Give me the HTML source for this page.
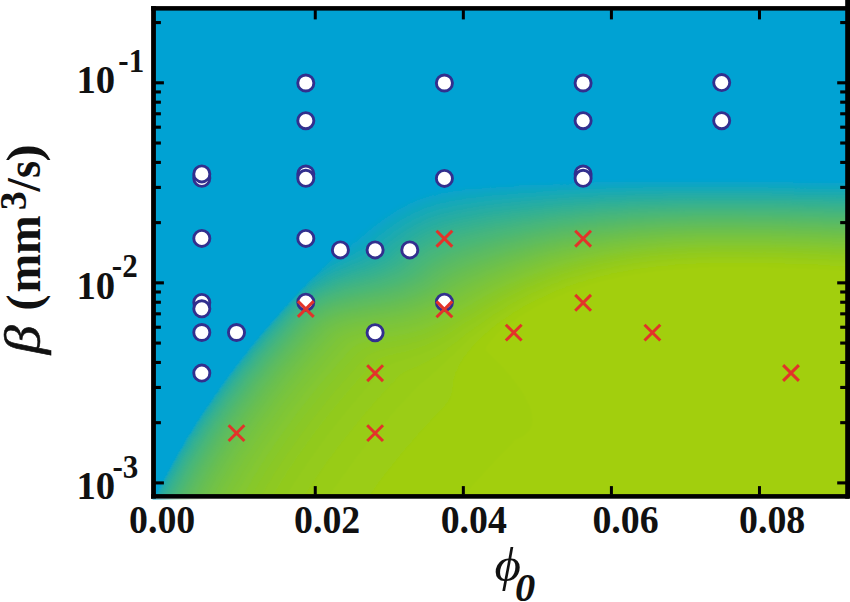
<!DOCTYPE html><html><head><meta charset="utf-8"><style>html,body{margin:0;padding:0;background:#fff;overflow:hidden}svg{display:block}</style></head><body>
<svg width="850" height="602" viewBox="0 0 850 602">
<defs><clipPath id="cp"><rect x="153.9" y="8.6" width="693.3" height="487.5"/></clipPath><filter id="bl" x="-5%" y="-5%" width="110%" height="110%"><feGaussianBlur stdDeviation="1.3"/></filter></defs>
<g clip-path="url(#cp)"><g filter="url(#bl)"><rect x="100" y="0" width="800" height="560" fill="#00a2d3"/><path fill="#03a3cf" d="M849.5 181.5L794.0 181.0L793.5 180.5L749.5 180.5L749.0 180.0L624.0 180.0L623.5 180.5L593.0 180.5L592.5 181.0L571.5 181.0L571.0 181.5L555.0 181.5L554.5 182.0L528.5 182.5L528.0 183.0L517.5 183.0L514.0 184.0L507.5 184.0L507.0 184.5L481.0 185.5L480.5 186.0L463.5 187.0L463.0 187.5L459.0 187.5L458.5 188.0L448.5 189.0L448.0 189.5L445.5 189.5L442.5 190.5L437.5 191.0L437.0 191.5L429.5 193.0L427.5 194.0L426.0 194.0L413.5 198.5L407.5 201.5L406.5 201.5L405.5 202.5L403.5 203.0L402.5 204.0L394.5 208.0L387.5 213.0L383.0 215.5L371.0 224.5L359.0 234.5L354.0 239.5L352.0 240.5L348.5 243.5L347.5 243.5L347.5 244.0L346.5 244.5L346.5 245.0L345.5 245.5L311.0 280.5L310.5 280.5L305.5 286.5L303.5 288.0L287.5 306.0L285.5 307.5L279.0 315.5L278.0 316.0L273.0 322.5L272.0 323.0L267.0 329.5L266.0 330.0L258.5 339.0L257.0 341.5L256.0 342.0L254.5 344.5L253.5 345.0L252.0 347.5L251.0 348.0L244.5 357.0L243.5 357.5L243.0 359.0L242.0 359.5L239.0 364.0L237.0 366.0L231.5 374.0L230.5 374.5L230.0 376.0L228.0 378.0L227.5 379.5L226.5 380.0L223.5 385.0L222.5 385.5L222.0 387.0L220.0 389.0L219.5 390.5L215.5 395.5L214.0 398.5L213.0 399.0L212.5 400.5L202.0 415.5L200.0 419.5L199.0 420.0L191.5 433.0L190.0 434.5L185.5 442.0L185.5 443.0L178.0 455.0L176.0 459.5L173.0 464.0L172.5 466.0L170.0 469.5L170.0 470.5L168.0 473.5L167.5 475.5L166.5 476.5L158.5 492.5L158.5 493.5L157.0 495.5L156.5 497.5L155.5 498.5L154.5 502.0L153.0 504.0L153.0 505.0L147.0 517.5L147.0 518.5L143.0 527.0L142.0 530.5L141.0 531.5L0.0 553.0L0.0 601.5L849.5 601.5Z"/><path fill="#07a4cb" d="M849.5 183.0L794.0 182.5L793.5 182.0L749.5 182.0L749.0 181.5L624.5 181.5L624.0 182.0L593.5 182.0L593.0 182.5L589.5 182.5L589.0 183.0L571.5 183.0L571.0 183.5L555.5 183.5L555.0 184.0L529.0 184.5L528.5 185.0L518.5 185.0L515.0 186.0L490.0 187.0L489.5 187.5L482.0 187.5L481.5 188.0L464.5 189.0L462.0 190.0L448.5 191.5L448.0 192.0L440.5 193.0L440.0 193.5L438.0 193.5L437.5 194.0L430.0 195.5L428.5 196.5L427.0 196.5L421.0 198.5L419.5 199.5L417.0 200.0L412.0 202.5L411.0 202.5L396.5 210.0L389.0 215.5L384.5 218.0L372.5 227.0L354.5 242.5L353.5 242.5L348.0 247.0L346.5 247.5L344.5 249.5L343.5 249.5L337.0 254.0L318.5 273.0L310.5 280.5L305.5 286.5L303.5 288.0L298.5 294.0L297.5 294.5L292.5 300.5L291.5 301.0L287.5 306.0L285.5 307.5L283.0 311.0L282.0 311.5L275.5 319.5L274.5 320.0L273.0 322.5L272.0 323.0L269.5 326.5L268.5 327.0L267.0 329.5L266.0 330.0L258.5 339.0L257.0 341.5L256.0 342.0L254.5 344.5L253.5 345.0L252.0 347.5L251.0 348.0L244.5 357.0L243.5 357.5L243.0 359.0L242.0 359.5L239.0 364.0L237.0 366.0L231.5 374.0L230.5 374.5L230.0 376.0L228.0 378.0L227.5 379.5L226.5 380.0L223.5 385.0L222.5 385.5L222.0 387.0L220.0 389.0L219.5 390.5L215.5 395.5L214.0 398.5L213.0 399.0L212.5 400.5L202.0 415.5L200.0 419.5L199.0 420.0L191.5 433.0L190.0 434.5L185.5 442.0L185.5 443.0L178.0 455.0L176.0 459.5L173.0 464.0L172.5 466.0L170.0 469.5L170.0 470.5L168.0 473.5L167.5 475.5L166.5 476.5L158.5 492.5L158.5 493.5L157.0 495.5L156.5 497.5L155.5 498.5L154.5 502.0L153.0 504.0L153.0 505.0L147.0 517.5L147.0 518.5L143.0 527.0L142.0 530.5L141.0 531.5L0.0 553.0L0.0 601.5L849.5 601.5Z"/><path fill="#0aa5c6" d="M849.5 184.5L794.0 184.0L793.5 183.5L749.5 183.5L749.0 183.0L625.0 183.0L624.5 183.5L613.0 183.5L612.5 184.0L558.0 185.0L557.5 185.5L554.5 185.5L554.0 186.0L529.5 186.5L529.0 187.0L519.0 187.0L516.0 188.0L491.0 189.0L490.5 189.5L485.0 189.5L484.5 190.0L481.5 190.0L481.0 190.5L475.5 190.5L475.0 191.0L470.0 191.0L469.5 191.5L464.5 191.5L464.0 192.0L456.5 192.5L451.5 194.0L446.0 194.5L445.5 195.0L443.5 195.0L443.0 195.5L434.5 197.0L432.5 198.0L431.0 198.0L429.0 199.0L427.5 199.0L421.5 201.0L419.0 202.5L412.0 205.0L402.0 210.0L387.0 219.5L374.5 229.0L357.5 243.5L347.5 249.5L346.0 251.0L343.5 252.0L333.0 259.0L331.5 260.5L330.0 261.0L318.5 273.0L310.5 280.5L305.5 286.5L303.5 288.0L298.5 294.0L297.5 294.5L292.5 300.5L291.5 301.0L287.5 306.0L285.5 307.5L283.0 311.0L282.0 311.5L275.5 319.5L274.5 320.0L273.0 322.5L272.0 323.0L269.5 326.5L268.5 327.0L267.0 329.5L266.0 330.0L258.5 339.0L257.0 341.5L256.0 342.0L254.5 344.5L253.5 345.0L252.0 347.5L251.0 348.0L244.5 357.0L243.5 357.5L243.0 359.0L242.0 359.5L239.0 364.0L237.0 366.0L231.5 374.0L230.5 374.5L230.0 376.0L228.0 378.0L227.5 379.5L226.5 380.0L223.5 385.0L222.5 385.5L222.0 387.0L220.0 389.0L219.5 390.5L215.5 395.5L214.0 398.5L213.0 399.0L212.5 400.5L202.0 415.5L200.0 419.5L199.0 420.0L191.5 433.0L190.0 434.5L185.5 442.0L185.5 443.0L178.0 455.0L176.0 459.5L173.0 464.0L172.5 466.0L170.0 469.5L170.0 470.5L168.0 473.5L167.5 475.5L166.5 476.5L158.5 492.5L158.5 493.5L157.0 495.5L156.5 497.5L155.5 498.5L154.5 502.0L153.0 504.0L153.0 505.0L147.0 517.5L147.0 518.5L143.0 527.0L142.0 530.5L141.0 531.5L0.0 553.0L0.0 601.5L849.5 601.5Z"/><path fill="#0ea6c2" d="M849.5 186.0L794.0 185.5L793.5 185.0L749.5 185.0L749.0 184.5L628.0 184.5L627.5 185.0L623.5 185.0L623.0 185.5L594.0 185.5L593.5 186.0L579.5 186.0L579.0 186.5L572.0 186.5L571.5 187.0L546.0 187.5L545.5 188.0L541.0 188.0L540.5 188.5L529.5 188.5L529.0 189.0L519.5 189.0L516.5 190.0L500.0 190.5L499.5 191.0L495.0 191.0L494.5 191.5L490.0 191.5L489.5 192.0L483.0 192.0L482.5 192.5L477.0 192.5L476.5 193.0L473.0 193.0L472.5 193.5L469.5 193.5L469.0 194.0L464.5 194.0L464.0 194.5L457.0 195.0L456.5 195.5L454.0 195.5L453.5 196.0L446.0 197.0L443.5 198.0L435.0 199.5L433.0 200.5L428.0 201.5L426.5 202.5L422.5 203.5L414.0 207.5L413.0 207.5L404.0 212.0L387.5 222.5L377.0 230.5L374.0 233.5L358.5 246.0L356.0 247.0L352.0 250.0L349.5 251.0L348.0 252.5L346.0 253.0L336.0 259.0L323.0 268.0L318.5 273.0L310.5 280.5L305.5 286.5L303.5 288.0L287.5 306.0L285.5 307.5L283.0 311.0L282.0 311.5L275.5 319.5L274.5 320.0L269.5 326.5L268.5 327.0L267.0 329.5L266.0 330.0L258.5 339.0L257.0 341.5L256.0 342.0L254.5 344.5L253.5 345.0L252.0 347.5L251.0 348.0L244.5 357.0L243.5 357.5L243.0 359.0L242.0 359.5L239.0 364.0L237.0 366.0L231.5 374.0L230.5 374.5L230.0 376.0L228.0 378.0L227.5 379.5L226.5 380.0L223.5 385.0L222.5 385.5L222.0 387.0L220.0 389.0L219.5 390.5L215.5 395.5L214.0 398.5L213.0 399.0L212.5 400.5L202.0 415.5L200.0 419.5L199.0 420.0L191.5 433.0L190.0 434.5L185.5 442.0L185.5 443.0L178.0 455.0L176.0 459.5L173.0 464.0L172.5 466.0L170.0 469.5L170.0 470.5L168.0 473.5L167.5 475.5L166.5 476.5L158.5 492.5L158.5 493.5L157.0 495.5L156.5 497.5L155.5 498.5L154.5 502.0L153.0 504.0L153.0 505.0L147.0 517.5L147.0 518.5L143.0 527.0L142.0 530.5L141.0 531.5L0.0 553.0L0.0 601.5L849.5 601.5Z"/><path fill="#11a7be" d="M849.5 187.5L794.0 187.0L793.5 186.5L749.5 186.5L749.0 186.0L636.5 186.0L636.0 186.5L624.5 186.5L624.0 187.0L595.5 187.0L592.0 188.0L573.0 188.0L572.5 188.5L556.0 189.0L555.5 189.5L543.0 189.5L539.5 190.5L520.0 191.0L517.0 192.0L509.5 192.0L509.0 192.5L501.5 192.5L498.5 193.5L484.5 194.0L481.5 195.0L471.0 195.5L470.5 196.0L457.0 197.5L456.5 198.0L454.0 198.0L453.5 198.5L451.0 198.5L448.5 199.5L446.5 199.5L444.0 200.5L441.5 200.5L435.5 202.5L432.0 203.0L430.5 204.0L426.0 205.0L422.0 207.0L419.5 207.5L415.0 210.0L414.0 210.0L400.0 217.5L394.0 222.0L389.5 224.5L379.5 232.0L367.5 242.5L365.5 243.5L360.0 248.0L357.5 249.0L349.0 254.5L348.0 254.5L340.5 258.5L330.5 264.5L321.0 271.0L318.0 274.0L317.0 274.0L316.0 275.5L310.5 280.5L305.5 286.5L303.5 288.0L292.5 300.5L291.5 301.0L287.5 306.0L285.5 307.5L283.0 311.0L282.0 311.5L275.5 319.5L274.5 320.0L273.0 322.5L272.0 323.0L269.5 326.5L268.5 327.0L267.0 329.5L266.0 330.0L258.5 339.0L257.0 341.5L256.0 342.0L254.5 344.5L253.5 345.0L252.0 347.5L251.0 348.0L244.5 357.0L243.5 357.5L243.0 359.0L242.0 359.5L239.0 364.0L237.0 366.0L231.5 374.0L230.5 374.5L230.0 376.0L228.0 378.0L227.5 379.5L226.5 380.0L223.5 385.0L222.5 385.5L222.0 387.0L220.0 389.0L219.5 390.5L215.5 395.5L214.0 398.5L213.0 399.0L212.5 400.5L202.0 415.5L200.0 419.5L199.0 420.0L191.5 433.0L190.0 434.5L185.5 442.0L185.5 443.0L178.0 455.0L176.0 459.5L173.0 464.0L172.5 466.0L170.0 469.5L170.0 470.5L168.0 473.5L167.5 475.5L166.5 476.5L158.5 492.5L158.5 493.5L157.0 495.5L156.5 497.5L155.5 498.5L154.5 502.0L153.0 504.0L153.0 505.0L147.0 517.5L147.0 518.5L143.0 527.0L142.0 530.5L141.0 531.5L0.0 553.0L0.0 601.5L849.5 601.5Z"/><path fill="#14a8ba" d="M849.5 189.0L794.0 188.5L793.5 188.0L768.5 188.0L768.0 187.5L643.0 187.5L642.5 188.0L625.0 188.0L624.5 188.5L606.0 188.5L605.5 189.0L594.0 189.0L593.5 189.5L579.0 189.5L578.5 190.0L572.5 190.0L572.0 190.5L557.5 190.5L554.5 191.5L543.0 191.5L542.5 192.0L537.5 192.0L537.0 192.5L521.5 193.0L521.0 193.5L518.0 193.5L517.5 194.0L510.0 194.0L509.5 194.5L500.0 195.0L499.5 195.5L492.5 195.5L489.5 196.5L483.5 196.5L483.0 197.0L478.0 197.0L475.0 198.0L466.0 198.5L463.0 199.5L457.0 200.0L454.0 201.0L449.0 201.5L444.5 203.0L440.0 203.5L438.0 204.5L436.5 204.5L425.5 208.0L423.0 209.5L420.5 210.0L416.0 212.5L415.0 212.5L402.0 219.5L391.5 226.5L379.0 236.0L369.5 244.5L362.5 249.5L332.0 265.5L320.5 273.0L319.5 274.5L318.0 275.0L311.0 281.0L310.5 280.5L305.5 286.5L303.5 288.0L298.5 294.0L297.5 294.5L292.5 300.5L291.5 301.0L287.5 306.0L285.5 307.5L275.5 319.5L274.5 320.0L273.0 322.5L272.0 323.0L269.5 326.5L268.5 327.0L267.0 329.5L266.0 330.0L258.5 339.0L257.0 341.5L256.0 342.0L254.5 344.5L253.5 345.0L252.0 347.5L251.0 348.0L244.5 357.0L243.5 357.5L243.0 359.0L242.0 359.5L239.0 364.0L237.0 366.0L231.5 374.0L230.5 374.5L230.0 376.0L228.0 378.0L227.5 379.5L226.5 380.0L223.5 385.0L222.5 385.5L222.0 387.0L220.0 389.0L219.5 390.5L215.5 395.5L214.0 398.5L213.0 399.0L212.5 400.5L202.0 415.5L200.0 419.5L199.0 420.0L191.5 433.0L190.0 434.5L185.5 442.0L185.5 443.0L178.0 455.0L176.0 459.5L173.0 464.0L172.5 466.0L170.0 469.5L170.0 470.5L168.0 473.5L167.5 475.5L166.5 476.5L158.5 492.5L158.5 493.5L157.0 495.5L156.5 497.5L155.5 498.5L154.5 502.0L153.0 504.0L153.0 505.0L147.0 517.5L147.0 518.5L143.0 527.0L142.0 530.5L141.0 531.5L0.0 553.0L0.0 601.5L849.5 601.5Z"/><path fill="#18a9b6" d="M849.5 190.5L794.0 190.0L793.5 189.5L772.5 189.5L772.0 189.0L648.5 189.0L648.0 189.5L626.0 189.5L625.5 190.0L614.0 190.0L613.5 190.5L595.0 190.5L594.5 191.0L589.5 191.0L589.0 191.5L574.0 191.5L573.5 192.0L569.5 192.0L569.0 192.5L557.0 192.5L556.5 193.0L552.0 193.0L551.5 193.5L543.0 193.5L542.5 194.0L536.5 194.0L536.0 194.5L530.0 194.5L529.5 195.0L522.5 195.0L522.0 195.5L518.5 195.5L518.0 196.0L510.5 196.0L507.5 197.0L501.0 197.0L500.5 197.5L497.5 197.5L497.0 198.0L486.0 198.5L485.5 199.0L482.5 199.0L482.0 199.5L477.5 199.5L474.0 200.5L466.0 201.0L465.5 201.5L463.0 201.5L460.0 202.5L457.0 202.5L456.5 203.0L449.5 204.0L445.0 205.5L440.5 206.0L437.0 207.5L435.5 207.5L426.5 210.5L424.0 212.0L421.5 212.5L417.0 215.0L416.0 215.0L404.0 221.5L396.5 227.0L393.5 228.5L381.0 238.0L372.0 246.0L364.0 251.5L335.5 265.5L334.5 266.5L331.0 268.0L323.5 272.5L320.0 275.5L318.5 276.0L316.0 278.5L309.0 283.5L304.5 288.0L303.5 288.0L287.5 306.0L285.5 307.5L275.5 319.5L274.5 320.0L273.0 322.5L272.0 323.0L269.5 326.5L268.5 327.0L267.0 329.5L266.0 330.0L258.5 339.0L257.0 341.5L256.0 342.0L254.5 344.5L253.5 345.0L252.0 347.5L251.0 348.0L244.5 357.0L243.5 357.5L243.0 359.0L242.0 359.5L239.0 364.0L237.0 366.0L231.5 374.0L230.5 374.5L230.0 376.0L228.0 378.0L227.5 379.5L226.5 380.0L223.5 385.0L222.5 385.5L222.0 387.0L220.0 389.0L219.5 390.5L215.5 395.5L214.0 398.5L213.0 399.0L212.5 400.5L202.0 415.5L200.0 419.5L199.0 420.0L191.5 433.0L190.0 434.5L185.5 442.0L185.5 443.0L178.0 455.0L176.0 459.5L173.0 464.0L172.5 466.0L170.0 469.5L170.0 470.5L168.0 473.5L167.5 475.5L166.5 476.5L158.5 492.5L158.5 493.5L157.0 495.5L156.5 497.5L155.5 498.5L154.5 502.0L153.0 504.0L153.0 505.0L147.0 517.5L147.0 518.5L143.0 527.0L142.0 530.5L141.0 531.5L0.0 553.0L0.0 601.5L849.5 601.5Z"/><path fill="#1baab2" d="M849.5 192.0L794.0 191.5L793.5 191.0L773.5 191.0L773.0 190.5L653.5 190.5L653.0 191.0L626.5 191.0L626.0 191.5L621.0 191.5L620.5 192.0L600.0 192.0L599.5 192.5L594.0 192.5L593.5 193.0L580.5 193.0L580.0 193.5L564.0 194.0L563.5 194.5L549.0 195.0L548.5 195.5L543.0 195.5L542.5 196.0L536.0 196.0L535.5 196.5L530.5 196.5L530.0 197.0L524.0 197.0L523.5 197.5L519.0 197.5L518.5 198.0L512.5 198.0L509.0 199.0L502.5 199.0L499.0 200.0L492.5 200.0L490.0 201.0L484.5 201.0L481.0 202.0L472.5 202.5L469.5 203.5L463.0 204.0L462.5 204.5L457.5 205.0L457.0 205.5L455.0 205.5L454.5 206.0L452.5 206.0L445.5 208.0L441.5 208.5L427.5 213.0L417.0 218.0L416.0 218.0L402.0 226.0L398.5 229.0L395.5 230.5L383.0 240.0L374.0 248.0L366.5 253.0L360.0 256.0L358.0 257.5L356.0 258.0L355.0 259.0L351.5 260.0L334.5 268.0L319.5 277.0L307.5 286.0L306.0 288.0L302.5 290.5L295.0 297.5L287.5 306.0L285.5 307.5L279.0 315.5L278.0 316.0L273.0 322.5L272.0 323.0L267.0 329.5L266.0 330.0L258.5 339.0L257.0 341.5L256.0 342.0L254.5 344.5L253.5 345.0L252.0 347.5L251.0 348.0L244.5 357.0L243.5 357.5L243.0 359.0L242.0 359.5L239.0 364.0L237.0 366.0L231.5 374.0L230.5 374.5L230.0 376.0L228.0 378.0L227.5 379.5L226.5 380.0L223.5 385.0L222.5 385.5L222.0 387.0L220.0 389.0L219.5 390.5L215.5 395.5L214.0 398.5L213.0 399.0L212.5 400.5L202.0 415.5L200.0 419.5L199.0 420.0L191.5 433.0L190.0 434.5L185.5 442.0L185.5 443.0L178.0 455.0L176.0 459.5L173.0 464.0L172.5 466.0L170.0 469.5L170.0 470.5L168.0 473.5L167.5 475.5L166.5 476.5L158.5 492.5L158.5 493.5L157.0 495.5L156.5 497.5L155.5 498.5L154.5 502.0L153.0 504.0L153.0 505.0L147.0 517.5L147.0 518.5L143.0 527.0L142.0 530.5L141.0 531.5L0.0 553.0L0.0 601.5L849.5 601.5Z"/><path fill="#1eaaad" d="M849.5 193.5L794.0 193.0L793.5 192.5L773.5 192.5L773.0 192.0L658.0 192.0L657.5 192.5L630.0 192.5L629.5 193.0L624.5 193.0L624.0 193.5L607.5 193.5L607.0 194.0L595.5 194.0L595.0 194.5L588.5 194.5L588.0 195.0L574.5 195.0L571.5 196.0L560.5 196.0L560.0 196.5L556.0 196.5L555.5 197.0L547.5 197.0L547.0 197.5L542.5 197.5L542.0 198.0L536.0 198.0L535.5 198.5L525.0 199.0L524.5 199.5L520.0 199.5L519.5 200.0L515.0 200.0L514.5 200.5L501.0 201.5L500.5 202.0L497.0 202.0L496.5 202.5L492.0 202.5L491.5 203.0L488.0 203.0L487.5 203.5L484.0 203.5L483.5 204.0L479.5 204.0L476.5 205.0L472.5 205.0L469.5 206.0L466.0 206.0L465.5 206.5L463.0 206.5L462.5 207.0L453.0 208.5L450.5 209.5L448.5 209.5L448.0 210.0L440.5 211.5L428.5 215.5L426.0 217.0L421.5 218.5L412.5 223.0L409.0 225.5L406.5 226.5L399.0 232.0L397.5 232.5L384.5 242.5L378.0 248.5L369.0 254.5L356.0 261.0L351.0 262.5L337.5 269.0L336.5 269.0L326.0 274.5L322.0 277.5L320.5 278.0L319.0 279.5L316.0 281.0L308.5 286.5L307.0 288.5L301.0 293.0L300.0 294.5L293.5 300.0L288.0 306.5L286.0 308.0L283.5 311.5L282.5 312.0L276.0 320.0L275.0 320.5L273.5 323.0L272.5 323.5L270.0 327.0L269.0 327.5L267.5 330.0L266.5 330.5L259.0 339.5L257.5 342.0L256.5 342.5L255.0 345.0L254.0 345.5L252.5 348.0L251.5 348.5L245.0 357.5L244.0 358.0L243.5 359.5L242.5 360.0L239.5 364.5L237.5 366.5L232.0 374.5L231.0 375.0L230.5 376.5L228.5 378.5L228.0 380.0L227.0 380.5L224.5 384.0L224.0 385.5L223.0 386.0L222.5 387.5L220.5 389.5L220.0 391.0L216.0 396.0L214.5 399.0L213.5 399.5L213.0 401.0L202.5 416.0L200.5 420.0L199.5 420.5L192.0 433.5L190.5 435.0L186.0 442.5L186.0 443.5L178.5 455.5L176.5 460.0L173.5 464.5L173.0 466.5L170.5 470.0L170.5 471.0L168.5 474.0L168.0 476.0L167.0 477.0L159.0 493.0L159.0 494.0L157.5 496.0L157.0 498.0L156.0 499.0L155.0 502.5L153.5 504.5L153.5 505.5L147.5 518.0L147.5 519.0L143.5 527.5L142.5 531.0L141.5 532.0L0.0 553.5L0.0 601.5L849.5 601.5Z"/><path fill="#22aba9" d="M849.5 195.0L793.5 194.5L793.0 194.0L772.5 194.0L772.0 193.5L662.5 193.5L662.0 194.0L636.0 194.0L635.5 194.5L614.0 195.0L613.5 195.5L598.0 195.5L597.5 196.0L594.0 196.0L593.5 196.5L574.0 197.0L573.5 197.5L569.0 197.5L568.5 198.0L558.5 198.0L555.0 199.0L546.5 199.0L546.0 199.5L542.5 199.5L542.0 200.0L536.5 200.0L536.0 200.5L531.0 200.5L530.5 201.0L526.5 201.0L526.0 201.5L520.5 201.5L520.0 202.0L517.0 202.0L516.5 202.5L511.0 202.5L508.0 203.5L502.0 203.5L499.0 204.5L494.0 204.5L490.5 205.5L486.0 205.5L485.5 206.0L479.0 206.5L476.0 207.5L472.5 207.5L469.5 208.5L466.5 208.5L466.0 209.0L463.5 209.0L463.0 209.5L456.0 210.5L453.5 211.5L451.5 211.5L451.0 212.0L441.5 214.0L429.5 218.0L420.5 222.5L419.5 222.5L407.0 229.5L397.5 236.0L386.5 244.5L380.0 250.5L369.0 257.5L367.0 258.0L357.0 263.0L353.0 264.0L348.0 266.5L341.0 269.0L337.5 271.0L336.5 271.0L325.5 276.5L322.5 279.0L321.5 279.0L320.0 280.5L318.5 281.0L309.0 287.5L307.5 289.5L302.5 293.0L296.0 299.0L294.0 301.5L289.0 306.0L284.0 312.0L283.0 312.5L276.5 320.5L275.5 321.0L274.0 323.5L273.0 324.0L270.5 327.5L269.5 328.0L268.0 330.5L267.0 331.0L259.5 340.0L258.0 342.5L257.0 343.0L255.5 345.5L254.5 346.0L253.0 348.5L252.0 349.0L245.5 358.0L244.5 358.5L244.0 360.0L243.0 360.5L240.0 365.0L238.0 367.0L232.5 375.0L231.5 375.5L231.0 377.0L229.0 379.0L228.5 380.5L227.5 381.0L225.0 384.5L224.5 386.0L223.5 386.5L223.0 388.0L221.0 390.0L220.5 391.5L216.5 396.5L215.0 399.5L214.0 400.0L213.5 401.5L203.0 416.5L201.0 420.5L200.0 421.0L179.0 456.0L170.0 473.5L169.0 474.5L169.0 475.5L167.5 477.5L160.0 492.5L159.5 494.5L158.5 495.5L158.5 496.5L156.0 501.0L156.0 502.0L154.5 504.0L154.5 505.0L152.5 508.5L152.5 509.5L150.5 513.0L150.5 514.0L144.5 527.0L143.5 530.5L142.0 532.5L139.0 533.5L136.5 533.5L136.0 534.0L123.0 535.5L119.5 536.5L116.5 536.5L113.0 537.5L110.0 537.5L106.5 538.5L93.5 540.0L90.0 541.0L87.0 541.0L83.5 542.0L80.5 542.0L77.0 543.0L74.0 543.0L70.5 544.0L64.0 544.5L60.5 545.5L57.5 545.5L54.0 546.5L51.0 546.5L47.5 547.5L41.0 548.0L37.5 549.0L34.5 549.0L31.0 550.0L28.0 550.0L24.5 551.0L21.5 551.0L18.0 552.0L15.0 552.0L14.5 552.5L11.5 552.5L11.0 553.0L0.0 554.5L0.0 601.5L849.5 601.5Z"/><path fill="#25aca5" d="M849.5 196.5L793.0 196.0L792.5 195.5L771.0 195.5L770.5 195.0L667.5 195.0L667.0 195.5L626.5 196.0L626.0 196.5L620.0 196.5L619.5 197.0L604.5 197.0L604.0 197.5L595.5 197.5L595.0 198.0L589.5 198.0L589.0 198.5L578.0 198.5L577.5 199.0L573.5 199.0L573.0 199.5L558.0 200.0L554.5 201.0L546.0 201.0L545.5 201.5L542.5 201.5L542.0 202.0L531.5 202.5L531.0 203.0L527.5 203.0L527.0 203.5L521.0 203.5L518.0 204.5L512.5 204.5L509.5 205.5L505.0 205.5L504.5 206.0L501.5 206.0L501.0 206.5L498.0 206.5L497.5 207.0L493.0 207.0L489.5 208.0L485.0 208.0L482.0 209.0L478.5 209.0L475.5 210.0L466.5 211.0L466.0 211.5L464.0 211.5L463.5 212.0L461.5 212.0L461.0 212.5L459.0 212.5L452.0 214.5L448.0 215.0L446.0 216.0L442.5 216.5L432.0 220.0L427.0 222.5L426.0 222.5L416.0 227.5L406.0 233.5L404.0 235.5L393.0 243.0L382.0 252.5L371.5 259.0L361.5 263.5L355.0 265.5L353.5 266.5L340.0 271.5L337.5 273.0L336.5 273.0L327.0 277.5L324.5 279.5L319.5 282.0L315.5 285.0L312.5 286.5L308.0 290.5L303.0 294.0L285.0 311.5L260.5 340.0L259.0 342.5L251.5 351.0L245.0 360.0L239.0 367.0L233.5 375.0L230.0 379.0L229.5 380.5L226.0 384.5L225.5 386.0L222.0 390.0L221.5 391.5L217.5 396.5L216.0 399.5L212.0 404.5L210.5 407.5L204.0 416.5L202.0 420.5L199.5 423.5L193.5 434.0L192.0 435.5L187.5 443.0L187.5 444.0L180.0 456.0L178.0 460.5L175.0 465.0L174.5 467.0L172.0 470.5L172.0 471.5L170.0 474.5L169.5 476.5L168.5 477.5L160.5 493.5L160.5 494.5L159.0 496.5L158.5 498.5L157.5 499.5L156.5 503.0L155.0 505.0L155.0 506.0L149.0 518.5L149.0 519.5L145.0 528.0L144.0 531.5L142.0 533.5L131.0 535.0L130.5 535.5L127.5 535.5L127.0 536.0L124.0 536.0L120.5 537.0L117.5 537.0L114.0 538.0L111.0 538.0L107.5 539.0L104.5 539.0L101.0 540.0L94.5 540.5L91.0 541.5L88.0 541.5L84.5 542.5L81.5 542.5L78.0 543.5L75.0 543.5L71.5 544.5L65.0 545.0L61.5 546.0L58.5 546.0L55.0 547.0L52.0 547.0L48.5 548.0L35.5 549.5L32.0 550.5L29.0 550.5L25.5 551.5L22.5 551.5L19.0 552.5L6.0 554.0L2.5 555.0L0.0 555.0L0.0 601.5L849.5 601.5Z"/><path fill="#28ada1" d="M849.5 198.0L792.5 197.5L792.0 197.0L750.0 197.0L749.5 196.5L672.0 196.5L671.5 197.0L628.0 197.5L627.5 198.0L624.0 198.0L623.5 198.5L598.0 199.0L597.5 199.5L594.0 199.5L593.5 200.0L575.0 200.5L571.5 201.5L564.0 201.5L563.5 202.0L558.0 202.0L557.5 202.5L554.0 202.5L553.5 203.0L546.0 203.0L542.5 204.0L532.0 204.5L531.5 205.0L528.5 205.0L528.0 205.5L522.5 205.5L519.0 206.5L511.0 207.0L507.5 208.0L502.5 208.0L499.5 209.0L495.5 209.0L492.0 210.0L485.0 210.5L482.0 211.5L478.5 211.5L475.5 212.5L472.5 212.5L469.5 213.5L467.0 213.5L466.5 214.0L459.5 215.0L459.0 215.5L443.5 219.0L432.0 223.0L425.0 226.5L424.0 226.5L423.0 227.5L420.0 228.5L407.5 236.0L404.0 239.0L402.5 239.5L394.5 245.5L384.0 254.5L375.0 260.0L365.0 264.5L364.0 264.5L361.5 266.0L354.5 268.0L353.0 269.0L350.5 269.5L349.0 270.5L346.5 271.0L345.0 272.0L342.5 272.5L335.0 276.0L334.0 276.0L316.5 285.5L303.5 295.0L290.5 307.0L266.5 334.5L240.0 367.5L234.5 375.5L231.0 379.5L230.5 381.0L227.0 385.0L226.5 386.5L223.0 390.5L222.5 392.0L218.5 397.0L217.0 400.0L213.0 405.0L211.5 408.0L205.0 417.0L203.0 421.0L200.5 424.0L194.5 434.5L193.0 436.0L188.5 443.5L188.5 444.5L181.0 456.5L179.0 461.0L176.0 465.5L175.5 467.5L173.0 471.0L173.0 472.0L171.0 475.0L170.5 477.0L169.5 478.0L161.5 494.0L161.5 495.0L160.0 497.0L159.5 499.0L158.5 500.0L157.5 503.5L156.0 505.5L156.0 506.5L150.0 519.0L150.0 520.0L146.0 528.5L145.0 532.0L142.5 534.5L131.5 536.0L131.0 536.5L128.0 536.5L127.5 537.0L124.5 537.0L121.0 538.0L118.0 538.0L114.5 539.0L111.5 539.0L108.0 540.0L105.0 540.0L101.5 541.0L95.0 541.5L91.5 542.5L88.5 542.5L85.0 543.5L82.0 543.5L78.5 544.5L75.5 544.5L72.0 545.5L65.5 546.0L62.0 547.0L59.0 547.0L55.5 548.0L52.5 548.0L49.0 549.0L36.0 550.5L32.5 551.5L29.5 551.5L26.0 552.5L23.0 552.5L19.5 553.5L6.5 555.0L3.0 556.0L0.0 556.0L0.0 601.5L849.5 601.5Z"/><path fill="#2cae9d" d="M849.5 200.0L843.0 200.0L842.5 199.5L824.0 199.5L823.5 199.0L792.0 199.0L791.5 198.5L749.0 198.5L748.5 198.0L677.0 198.0L676.5 198.5L633.5 199.0L633.0 199.5L626.0 199.5L625.5 200.0L596.0 201.0L595.5 201.5L591.0 201.5L590.5 202.0L581.0 202.0L580.5 202.5L574.5 202.5L574.0 203.0L570.5 203.0L570.0 203.5L562.5 203.5L562.0 204.0L557.5 204.0L557.0 204.5L553.0 204.5L552.5 205.0L546.0 205.0L542.5 206.0L532.5 206.5L529.0 207.5L524.5 207.5L524.0 208.0L520.5 208.0L520.0 208.5L517.0 208.5L516.5 209.0L512.0 209.0L509.5 210.0L505.5 210.0L505.0 210.5L502.0 210.5L498.5 211.5L494.0 211.5L491.0 212.5L488.0 212.5L487.5 213.0L485.0 213.0L481.5 214.0L478.5 214.0L475.5 215.0L473.0 215.0L472.5 215.5L467.5 216.0L467.0 216.5L462.5 217.0L460.0 218.0L458.0 218.0L456.0 219.0L454.0 219.0L448.0 221.0L444.5 221.5L438.5 223.5L437.0 224.5L434.5 225.0L429.5 227.5L428.5 227.5L419.5 232.0L409.0 238.5L396.0 248.0L387.5 255.5L380.5 260.0L372.5 264.0L371.5 264.0L362.5 268.0L358.0 269.0L356.5 270.0L349.5 272.0L348.0 273.0L344.0 274.0L342.5 275.0L335.0 277.5L318.5 286.0L312.0 290.0L310.0 292.0L303.5 296.5L302.5 298.0L299.5 300.0L291.5 307.5L267.0 335.5L260.5 344.0L253.0 352.5L246.5 361.5L244.0 364.0L233.5 378.5L231.5 380.5L231.0 382.0L227.5 386.0L227.0 387.5L223.5 391.5L223.0 393.0L219.0 398.0L217.5 401.0L213.5 406.0L212.0 409.0L205.5 418.0L203.5 422.0L201.0 425.0L195.0 435.5L193.5 437.0L190.5 442.0L189.0 445.5L181.5 457.5L172.5 475.0L171.5 476.0L171.5 477.0L170.0 479.0L162.5 494.0L162.0 496.0L161.0 497.0L161.0 498.0L158.5 502.5L158.5 503.5L157.0 505.5L157.0 506.5L155.0 510.0L155.0 511.0L153.0 514.5L153.0 515.5L147.0 528.5L146.0 532.0L143.5 535.0L140.5 536.0L134.5 536.5L131.0 537.5L124.5 538.0L124.0 538.5L118.0 539.0L114.5 540.0L111.5 540.0L108.0 541.0L105.0 541.0L101.5 542.0L95.0 542.5L94.5 543.0L88.5 543.5L85.0 544.5L82.0 544.5L78.5 545.5L75.5 545.5L72.0 546.5L65.5 547.0L65.0 547.5L59.0 548.0L55.5 549.0L52.5 549.0L49.0 550.0L46.0 550.0L45.5 550.5L42.5 550.5L42.0 551.0L36.0 551.5L32.5 552.5L29.5 552.5L26.0 553.5L23.0 553.5L19.5 554.5L16.5 554.5L16.0 555.0L13.0 555.0L12.5 555.5L6.5 556.0L3.0 557.0L0.0 557.0L0.0 601.5L849.5 601.5Z"/><path fill="#2faf98" d="M849.5 201.5L834.5 201.5L834.0 201.0L823.5 201.0L823.0 200.5L791.5 200.5L791.0 200.0L682.5 199.5L682.0 200.0L638.5 200.5L638.0 201.0L627.0 201.0L626.5 201.5L621.5 201.5L621.0 202.0L599.0 202.5L598.5 203.0L594.5 203.0L594.0 203.5L578.5 204.0L578.0 204.5L569.0 205.0L568.5 205.5L561.5 205.5L561.0 206.0L553.0 206.5L552.5 207.0L546.5 207.0L543.0 208.0L533.0 208.5L530.0 209.5L521.5 210.0L518.5 211.0L514.5 211.0L514.0 211.5L511.0 211.5L508.0 212.5L503.5 212.5L503.0 213.0L498.0 213.5L497.5 214.0L493.5 214.0L490.5 215.0L484.5 215.5L481.5 216.5L479.0 216.5L478.5 217.0L473.5 217.5L473.0 218.0L463.5 219.5L461.0 220.5L459.0 220.5L458.5 221.0L453.0 222.0L451.0 223.0L449.5 223.0L447.5 224.0L446.0 224.0L431.0 229.5L421.0 234.5L413.5 239.0L399.5 249.0L389.5 257.5L385.0 260.5L379.5 263.0L378.5 264.0L369.0 268.0L366.5 268.5L365.0 269.5L360.5 270.5L347.0 275.0L345.5 276.0L340.0 277.5L338.5 278.5L332.5 280.5L317.0 288.5L305.5 296.5L292.5 308.0L268.0 336.0L261.5 344.5L254.0 353.0L247.5 362.0L245.0 364.5L234.5 379.0L232.5 381.0L232.0 382.5L228.5 386.5L228.0 388.0L224.5 392.0L224.0 393.5L220.0 398.5L218.5 401.5L214.5 406.5L213.0 409.5L206.5 418.5L204.5 422.5L202.0 425.5L196.0 436.0L194.5 437.5L191.5 442.5L190.0 446.0L182.5 458.0L173.5 475.5L172.5 476.5L172.5 477.5L171.0 479.5L163.5 494.5L163.0 496.5L162.0 497.5L162.0 498.5L159.5 503.0L159.5 504.0L158.0 506.0L158.0 507.0L156.0 510.5L156.0 511.5L154.0 515.0L154.0 516.0L148.0 529.0L147.0 532.5L144.0 536.0L139.0 537.5L136.5 537.5L136.0 538.0L123.0 539.5L119.5 540.5L116.5 540.5L113.0 541.5L110.0 541.5L106.5 542.5L93.5 544.0L90.0 545.0L87.0 545.0L83.5 546.0L80.5 546.0L77.0 547.0L74.0 547.0L70.5 548.0L64.0 548.5L60.5 549.5L57.5 549.5L54.0 550.5L51.0 550.5L47.5 551.5L41.0 552.0L37.5 553.0L34.5 553.0L31.0 554.0L28.0 554.0L24.5 555.0L21.5 555.0L18.0 556.0L15.0 556.0L14.5 556.5L11.5 556.5L11.0 557.0L0.0 558.5L0.0 601.5L849.5 601.5Z"/><path fill="#33b094" d="M849.5 203.0L829.0 203.0L828.5 202.5L819.0 202.5L818.5 202.0L791.0 202.0L790.5 201.5L688.0 201.0L687.5 201.5L661.5 201.5L661.0 202.0L629.5 202.5L629.0 203.0L625.0 203.0L624.5 203.5L596.5 204.5L596.0 205.0L593.0 205.0L592.5 205.5L577.0 206.0L576.5 206.5L573.5 206.5L573.0 207.0L561.0 207.5L560.5 208.0L553.0 208.5L552.5 209.0L547.0 209.0L546.5 209.5L543.5 209.5L543.0 210.0L540.0 210.0L539.5 210.5L534.5 210.5L534.0 211.0L528.0 211.5L527.5 212.0L522.5 212.0L522.0 212.5L517.0 213.0L516.5 213.5L512.5 213.5L509.5 214.5L503.0 215.0L500.0 216.0L496.5 216.0L496.0 216.5L493.5 216.5L490.5 217.5L487.0 217.5L484.5 218.5L482.0 218.5L481.5 219.0L479.0 219.0L476.5 220.0L473.5 220.0L471.0 221.0L468.5 221.0L468.0 221.5L450.5 225.5L434.5 231.0L429.0 234.0L428.0 234.0L412.0 243.5L401.0 251.5L393.0 258.5L387.0 262.5L377.0 267.5L374.5 268.0L369.0 270.5L363.0 272.5L361.5 272.5L355.0 275.0L353.5 275.0L336.0 281.0L316.5 290.5L307.0 297.0L304.0 300.0L299.0 303.5L298.5 304.5L288.5 314.0L264.0 342.5L262.5 345.0L255.0 353.5L248.5 362.5L242.5 369.5L237.0 377.5L233.5 381.5L233.0 383.0L229.5 387.0L229.0 388.5L225.5 392.5L225.0 394.0L221.0 399.0L219.5 402.0L215.5 407.0L214.0 410.0L207.5 419.0L205.5 423.0L203.0 426.0L197.0 436.5L195.5 438.0L192.5 443.0L191.0 446.5L183.5 458.5L174.5 476.0L173.5 477.0L173.5 478.0L172.0 480.0L164.5 495.0L164.0 497.0L163.0 498.0L163.0 499.0L160.5 503.5L160.5 504.5L159.0 506.5L159.0 507.5L157.0 511.0L157.0 512.0L155.0 515.5L155.0 516.5L149.0 529.5L148.0 533.0L144.5 537.0L140.0 538.5L137.5 538.5L137.0 539.0L134.0 539.0L130.5 540.0L124.0 540.5L123.5 541.0L117.5 541.5L114.0 542.5L111.0 542.5L107.5 543.5L104.5 543.5L101.0 544.5L94.5 545.0L94.0 545.5L88.0 546.0L84.5 547.0L81.5 547.0L78.0 548.0L75.0 548.0L71.5 549.0L65.0 549.5L61.5 550.5L58.5 550.5L55.0 551.5L52.0 551.5L48.5 552.5L42.0 553.0L38.5 554.0L35.5 554.0L32.0 555.0L29.0 555.0L25.5 556.0L22.5 556.0L19.0 557.0L16.0 557.0L15.5 557.5L12.5 557.5L9.0 558.5L0.0 559.5L0.0 601.5L849.5 601.5Z"/><path fill="#36b190" d="M849.5 204.5L825.5 204.5L825.0 204.0L790.5 203.5L790.0 203.0L694.0 202.5L693.5 203.0L667.0 203.0L666.5 203.5L634.5 204.0L634.0 204.5L627.0 204.5L626.5 205.0L620.0 205.0L619.5 205.5L600.5 206.0L600.0 206.5L595.5 206.5L595.0 207.0L576.0 208.0L572.5 209.0L560.5 209.5L557.0 210.5L547.5 211.0L547.0 211.5L544.0 211.5L540.5 212.5L535.5 212.5L535.0 213.0L532.0 213.0L529.0 214.0L524.5 214.0L524.0 214.5L521.5 214.5L518.0 215.5L515.0 215.5L514.5 216.0L512.0 216.0L508.5 217.0L502.5 217.5L499.5 218.5L496.0 218.5L495.5 219.0L493.0 219.0L490.0 220.0L487.0 220.0L484.5 221.0L472.0 223.0L469.5 224.0L467.5 224.0L467.0 224.5L453.5 227.5L448.5 229.5L447.0 229.5L442.5 231.0L441.0 232.0L436.0 233.5L431.5 236.0L430.5 236.0L427.5 238.0L423.0 240.0L413.5 246.0L399.5 256.5L396.5 259.5L389.0 264.5L381.0 268.5L376.0 270.0L374.5 271.0L338.5 282.0L330.0 286.0L329.0 286.0L324.5 288.5L323.5 288.5L321.5 290.0L316.0 292.5L314.5 294.0L306.5 299.0L306.0 300.0L301.0 303.5L294.0 310.0L269.5 338.0L263.0 346.5L255.5 355.0L249.0 364.0L246.5 366.5L234.5 382.5L233.5 384.5L231.5 386.5L229.5 390.0L221.5 400.5L220.0 403.5L216.0 408.5L215.5 410.0L213.0 413.0L210.5 417.5L209.0 419.0L207.0 423.0L204.5 426.0L198.5 436.5L192.5 445.5L192.5 446.5L185.0 458.5L183.0 463.0L180.0 467.5L179.5 469.5L177.0 473.0L177.0 474.0L175.0 477.0L174.5 479.0L173.5 480.0L165.5 496.0L165.5 497.0L164.0 499.0L163.5 501.0L162.5 502.0L161.5 505.5L160.0 507.5L160.0 508.5L154.0 521.0L154.0 522.0L150.0 530.5L149.0 534.0L146.0 537.5L143.0 539.0L138.5 539.5L138.0 540.0L125.0 541.5L121.5 542.5L118.5 542.5L118.0 543.0L112.0 543.5L108.5 544.5L105.5 544.5L102.0 545.5L95.5 546.0L95.0 546.5L89.0 547.0L85.5 548.0L82.5 548.0L79.0 549.0L76.0 549.0L72.5 550.0L66.0 550.5L65.5 551.0L59.5 551.5L56.0 552.5L53.0 552.5L49.5 553.5L43.0 554.0L39.5 555.0L36.5 555.0L36.0 555.5L30.0 556.0L26.5 557.0L23.5 557.0L20.0 558.0L13.5 558.5L13.0 559.0L7.0 559.5L3.5 560.5L0.0 560.5L0.0 601.5L849.5 601.5Z"/><path fill="#39b28c" d="M849.5 206.0L802.0 205.5L801.5 205.0L789.5 205.0L789.0 204.5L704.5 204.0L704.0 204.5L672.0 204.5L671.5 205.0L639.5 205.5L639.0 206.0L628.0 206.0L627.5 206.5L624.5 206.5L624.0 207.0L597.5 208.0L594.0 209.0L581.0 209.5L580.5 210.0L575.5 210.0L572.0 211.0L560.5 211.5L557.0 212.5L544.5 213.5L541.5 214.5L533.0 215.0L530.0 216.0L522.5 216.5L519.5 217.5L513.5 218.0L513.0 218.5L511.0 218.5L508.0 219.5L504.5 219.5L504.0 220.0L502.0 220.0L499.0 221.0L495.5 221.0L495.0 221.5L493.0 221.5L490.0 222.5L485.0 223.0L482.5 224.0L480.0 224.0L477.5 225.0L475.0 225.0L470.5 226.5L468.5 226.5L468.0 227.0L458.5 229.0L456.5 230.0L455.0 230.0L444.0 233.5L442.5 234.5L437.5 236.0L433.0 238.5L432.0 238.5L418.0 246.5L407.5 254.0L396.0 263.5L387.0 268.5L386.0 268.5L381.5 271.0L377.5 272.0L376.0 273.0L368.5 275.5L365.0 276.0L361.5 277.5L360.0 277.5L358.0 278.5L356.5 278.5L354.5 279.5L353.0 279.5L349.5 281.0L348.0 281.0L344.5 282.5L343.0 282.5L337.0 284.5L317.5 293.5L309.0 299.0L307.0 301.0L302.5 304.0L290.5 315.5L266.0 344.0L264.5 346.5L257.0 355.0L250.5 364.0L244.5 371.0L239.0 379.0L235.5 383.0L235.0 384.5L231.5 388.5L231.0 390.0L227.5 394.0L227.0 395.5L223.0 400.5L221.5 403.5L217.5 408.5L216.0 411.5L209.5 420.5L207.5 424.5L205.0 427.5L199.0 438.0L197.5 439.5L194.5 444.5L193.0 448.0L185.5 460.0L180.0 471.0L179.0 472.0L167.0 495.5L167.0 496.5L159.5 511.5L159.5 512.5L157.5 516.0L157.5 517.0L151.5 530.0L150.5 533.5L149.5 535.5L146.0 539.0L142.5 540.5L138.0 541.0L137.5 541.5L134.5 541.5L131.0 542.5L124.5 543.0L121.0 544.0L118.0 544.0L117.5 544.5L111.5 545.0L108.0 546.0L105.0 546.0L101.5 547.0L95.0 547.5L94.5 548.0L88.5 548.5L85.0 549.5L82.0 549.5L78.5 550.5L75.5 550.5L72.0 551.5L65.5 552.0L65.0 552.5L59.0 553.0L55.5 554.0L52.5 554.0L49.0 555.0L46.0 555.0L45.5 555.5L42.5 555.5L42.0 556.0L36.0 556.5L32.5 557.5L29.5 557.5L26.0 558.5L23.0 558.5L19.5 559.5L16.5 559.5L16.0 560.0L13.0 560.0L12.5 560.5L6.5 561.0L3.0 562.0L0.0 562.0L0.0 601.5L849.5 601.5Z"/><path fill="#3db388" d="M849.5 208.0L823.5 207.5L823.0 207.0L774.5 206.5L774.0 206.0L678.0 206.0L677.5 206.5L658.5 206.5L658.0 207.0L632.5 207.5L632.0 208.0L619.5 208.5L619.0 209.0L602.5 209.5L602.0 210.0L596.5 210.0L596.0 210.5L593.0 210.5L592.5 211.0L580.0 211.5L579.5 212.0L575.5 212.0L575.0 212.5L572.0 212.5L571.5 213.0L566.5 213.0L566.0 213.5L561.0 213.5L560.5 214.0L554.0 214.5L553.5 215.0L549.0 215.0L548.5 215.5L545.5 215.5L542.0 216.5L534.0 217.0L533.5 217.5L528.5 218.0L528.0 218.5L524.5 218.5L524.0 219.0L521.5 219.0L521.0 219.5L516.0 220.0L515.5 220.5L512.5 220.5L510.0 221.5L504.0 222.0L503.5 222.5L501.5 222.5L498.5 223.5L495.5 223.5L493.0 224.5L488.0 225.0L483.0 226.5L480.5 226.5L478.0 227.5L476.0 227.5L471.5 229.0L469.5 229.0L469.0 229.5L461.5 231.0L459.5 232.0L458.0 232.0L454.5 233.5L453.0 233.5L445.5 236.0L444.0 237.0L439.0 238.5L433.5 241.5L432.5 241.5L417.5 250.5L408.5 257.0L401.0 263.5L390.0 270.0L389.0 270.0L382.0 273.5L370.0 277.5L364.5 278.5L362.5 279.5L353.5 281.5L351.5 282.5L350.0 282.5L348.0 283.5L346.5 283.5L343.0 285.0L341.5 285.0L337.0 286.5L333.5 288.5L328.5 290.0L318.0 295.0L316.5 296.5L312.5 298.5L303.5 305.0L291.5 316.5L267.0 345.0L265.5 347.5L258.0 356.0L251.5 365.0L245.5 372.0L224.0 401.5L222.5 404.5L218.5 409.5L218.0 411.0L211.5 420.0L209.5 424.0L207.0 427.0L201.0 437.5L195.0 446.5L195.0 447.5L187.5 459.5L185.5 464.0L182.5 468.5L182.0 470.5L179.5 474.0L179.5 475.0L177.5 478.0L177.0 480.0L176.0 481.0L168.0 497.0L168.0 498.0L166.5 500.0L166.0 502.0L165.0 503.0L164.0 506.5L162.5 508.5L162.5 509.5L156.5 522.0L156.5 523.0L152.5 531.5L151.5 535.0L147.0 540.0L144.0 541.5L140.0 542.0L139.5 542.5L137.0 542.5L136.5 543.0L123.5 544.5L120.0 545.5L117.0 545.5L113.5 546.5L110.5 546.5L107.0 547.5L104.0 547.5L100.5 548.5L94.0 549.0L90.5 550.0L87.5 550.0L84.0 551.0L81.0 551.0L77.5 552.0L74.5 552.0L71.0 553.0L64.5 553.5L61.0 554.5L58.0 554.5L54.5 555.5L51.5 555.5L48.0 556.5L41.5 557.0L38.0 558.0L35.0 558.0L31.5 559.0L28.5 559.0L25.0 560.0L22.0 560.0L18.5 561.0L15.5 561.0L15.0 561.5L12.0 561.5L11.5 562.0L0.0 563.5L0.0 601.5L849.5 601.5Z"/><path fill="#40b483" d="M849.5 209.5L833.0 209.5L832.5 209.0L822.5 209.0L822.0 208.5L771.0 208.0L770.5 207.5L684.0 207.5L683.5 208.0L649.5 208.5L649.0 209.0L628.5 209.5L628.0 210.0L624.0 210.0L623.5 210.5L607.5 211.0L607.0 211.5L600.5 211.5L600.0 212.0L591.0 212.5L590.5 213.0L579.0 213.5L578.5 214.0L575.0 214.0L574.5 214.5L571.5 214.5L571.0 215.0L561.0 215.5L560.5 216.0L554.5 216.5L554.0 217.0L546.0 217.5L543.0 218.5L532.5 219.5L530.0 220.5L523.0 221.0L520.5 222.0L515.0 222.5L514.5 223.0L507.0 224.0L506.5 224.5L504.0 224.5L503.5 225.0L501.5 225.0L498.5 226.0L495.5 226.0L491.0 227.5L488.5 227.5L488.0 228.0L486.0 228.0L479.0 230.0L477.0 230.0L476.5 230.5L461.0 234.0L457.5 235.5L456.0 235.5L447.0 238.5L445.5 239.5L439.5 241.5L426.0 248.5L413.5 257.0L402.5 266.0L392.0 272.0L391.0 272.0L385.0 275.0L373.0 279.0L365.5 280.5L363.5 281.5L356.0 283.0L354.0 284.0L352.5 284.0L348.5 285.5L345.0 286.0L341.5 287.5L340.0 287.5L336.0 289.5L332.0 290.5L327.0 293.0L326.0 293.0L321.5 295.5L320.5 295.5L318.0 297.5L313.0 300.0L304.0 306.5L293.0 317.0L259.5 356.5L253.0 365.5L247.0 372.5L240.0 382.5L238.0 384.5L237.5 386.0L234.0 390.0L232.0 393.5L230.0 395.5L229.5 397.0L225.5 402.0L224.0 405.0L220.0 410.0L218.5 413.0L212.0 422.0L210.0 426.0L207.5 429.0L188.0 461.5L169.5 497.0L169.5 498.0L165.5 505.5L165.5 506.5L158.0 522.0L158.0 523.0L152.0 537.0L147.5 541.5L144.0 543.0L139.5 543.5L139.0 544.0L126.0 545.5L122.5 546.5L119.5 546.5L119.0 547.0L113.0 547.5L109.5 548.5L106.5 548.5L103.0 549.5L96.5 550.0L96.0 550.5L90.0 551.0L86.5 552.0L83.5 552.0L80.0 553.0L77.0 553.0L73.5 554.0L67.0 554.5L66.5 555.0L60.5 555.5L57.0 556.5L54.0 556.5L50.5 557.5L44.0 558.0L40.5 559.0L37.5 559.0L37.0 559.5L31.0 560.0L27.5 561.0L24.5 561.0L21.0 562.0L14.5 562.5L14.0 563.0L8.0 563.5L4.5 564.5L0.0 564.5L0.0 601.5L849.5 601.5Z"/><path fill="#44b57f" d="M849.5 211.0L825.5 211.0L825.0 210.5L790.5 210.0L790.0 209.5L748.0 209.5L747.5 209.0L692.5 209.0L692.0 209.5L654.5 210.0L654.0 210.5L632.0 211.0L631.5 211.5L620.5 212.0L620.0 212.5L598.5 213.5L598.0 214.0L595.0 214.0L594.5 214.5L584.0 215.0L583.5 215.5L578.5 215.5L578.0 216.0L575.0 216.0L574.5 216.5L571.5 216.5L571.0 217.0L561.5 217.5L561.0 218.0L558.5 218.0L555.0 219.0L551.0 219.0L550.5 219.5L547.0 219.5L546.5 220.0L541.5 220.5L541.0 221.0L534.0 221.5L531.0 222.5L522.0 223.5L517.0 225.0L514.0 225.0L511.5 226.0L503.5 227.0L501.0 228.0L496.0 228.5L493.5 229.5L486.5 230.5L482.0 232.0L480.0 232.0L479.5 232.5L466.0 235.5L464.0 236.5L462.5 236.5L457.5 238.5L453.0 239.5L451.5 240.5L446.0 242.0L441.0 244.5L440.0 244.5L428.5 250.5L416.0 259.0L405.5 267.5L401.0 270.5L393.0 274.5L392.0 274.5L387.0 277.0L382.5 278.0L381.0 279.0L378.0 279.5L374.5 281.0L373.0 281.0L372.5 281.5L349.0 287.0L347.0 288.0L343.5 288.5L337.5 291.0L332.0 292.5L324.5 296.0L323.5 296.0L312.0 302.5L310.0 304.5L304.5 308.0L300.0 312.0L293.0 319.5L259.5 359.0L253.0 368.0L250.5 370.5L244.0 379.0L243.0 381.0L227.0 402.5L225.5 405.5L221.5 410.5L220.0 413.5L213.5 422.5L211.5 426.5L209.0 429.5L189.5 462.0L171.0 497.5L171.0 498.5L167.0 506.0L167.0 507.0L159.5 522.5L159.5 523.5L155.5 532.0L154.5 535.5L153.5 537.5L150.0 541.5L146.0 544.0L142.5 545.0L140.0 545.0L139.5 545.5L126.5 547.0L123.0 548.0L120.0 548.0L119.5 548.5L113.5 549.0L110.0 550.0L107.0 550.0L103.5 551.0L97.0 551.5L96.5 552.0L90.5 552.5L87.0 553.5L84.0 553.5L80.5 554.5L77.5 554.5L74.0 555.5L67.5 556.0L67.0 556.5L61.0 557.0L57.5 558.0L54.5 558.0L51.0 559.0L44.5 559.5L41.0 560.5L38.0 560.5L37.5 561.0L31.5 561.5L28.0 562.5L25.0 562.5L21.5 563.5L15.0 564.0L14.5 564.5L8.5 565.0L5.0 566.0L0.0 566.0L0.0 601.5L849.5 601.5Z"/><path fill="#47b67b" d="M849.5 213.0L843.5 213.0L843.0 212.5L824.0 212.5L823.5 212.0L802.0 212.0L801.5 211.5L789.0 211.5L788.5 211.0L746.0 211.0L745.5 210.5L704.5 210.5L704.0 211.0L660.0 211.5L659.5 212.0L648.0 212.0L647.5 212.5L628.5 213.0L628.0 213.5L625.0 213.5L624.5 214.0L617.5 214.0L617.0 214.5L610.0 214.5L609.5 215.0L597.5 215.5L594.0 216.5L578.5 217.5L578.0 218.0L575.0 218.0L574.5 218.5L571.5 218.5L571.0 219.0L562.5 219.5L562.0 220.0L559.0 220.0L555.5 221.0L548.0 221.5L547.5 222.0L542.5 222.5L542.0 223.0L535.5 223.5L535.0 224.0L533.0 224.0L530.0 225.0L524.0 225.5L519.0 227.0L516.5 227.0L516.0 227.5L511.5 228.0L509.0 229.0L506.5 229.0L506.0 229.5L496.5 231.0L496.0 231.5L487.5 233.0L483.0 234.5L481.0 234.5L477.0 236.0L475.0 236.0L473.0 237.0L464.0 239.0L449.0 244.0L441.5 247.5L440.5 247.5L429.5 253.5L425.5 256.5L422.5 258.0L408.5 269.0L404.0 272.0L395.0 276.5L394.0 276.5L389.0 279.0L386.0 279.5L378.0 282.5L376.5 282.5L372.0 284.0L370.0 284.0L369.5 284.5L344.0 290.5L324.5 297.5L313.5 303.5L310.0 306.5L306.5 308.5L295.0 319.5L261.5 359.0L255.0 368.0L252.5 370.5L244.5 381.0L243.5 383.0L227.5 404.5L227.0 406.0L222.0 412.5L221.5 414.0L215.0 423.0L213.0 427.0L210.5 430.0L191.0 462.5L172.5 498.0L172.5 499.0L168.5 506.5L168.5 507.5L161.0 523.0L161.0 524.0L155.0 538.0L150.0 543.5L145.0 546.0L137.5 547.0L137.0 547.5L134.0 547.5L130.5 548.5L124.0 549.0L123.5 549.5L117.5 550.0L114.0 551.0L111.0 551.0L107.5 552.0L104.5 552.0L101.0 553.0L94.5 553.5L94.0 554.0L88.0 554.5L84.5 555.5L81.5 555.5L78.0 556.5L75.0 556.5L71.5 557.5L65.0 558.0L61.5 559.0L58.5 559.0L55.0 560.0L52.0 560.0L48.5 561.0L42.0 561.5L38.5 562.5L35.5 562.5L32.0 563.5L29.0 563.5L25.5 564.5L22.5 564.5L19.0 565.5L16.0 565.5L15.5 566.0L12.5 566.0L9.0 567.0L0.0 568.0L0.0 601.5L849.5 601.5Z"/><path fill="#4ab777" d="M849.5 214.5L833.5 214.5L833.0 214.0L822.5 214.0L822.0 213.5L774.0 213.0L773.5 212.5L683.5 212.5L683.0 213.0L666.0 213.0L665.5 213.5L653.0 213.5L652.5 214.0L633.0 214.5L632.5 215.0L627.5 215.0L627.0 215.5L622.5 215.5L622.0 216.0L602.0 217.0L601.5 217.5L597.0 217.5L596.5 218.0L593.5 218.0L593.0 218.5L578.5 219.5L578.0 220.0L575.0 220.0L571.5 221.0L563.0 221.5L562.5 222.0L559.5 222.0L556.5 223.0L546.0 224.0L543.5 225.0L534.0 226.0L531.5 227.0L526.0 227.5L521.0 229.0L513.5 230.0L509.0 231.5L506.5 231.5L501.5 233.0L497.0 233.5L496.5 234.0L495.0 234.0L490.5 235.5L488.5 235.5L484.0 237.0L482.0 237.0L474.5 239.5L469.0 240.5L465.5 242.0L464.0 242.0L455.0 245.0L453.5 246.0L449.5 247.0L444.5 249.5L443.5 249.5L432.0 255.5L426.5 259.5L425.0 260.0L408.0 273.0L396.0 279.0L379.5 284.5L344.5 292.5L324.5 299.5L323.5 300.5L314.5 305.0L313.0 306.5L308.0 309.5L305.0 312.5L301.5 315.0L296.0 321.0L262.5 360.5L256.0 369.5L253.5 372.0L245.5 382.5L244.5 384.5L228.5 406.0L228.0 407.5L223.0 414.0L222.5 415.5L216.0 424.5L214.0 428.5L211.5 431.5L192.0 464.0L174.0 498.5L174.0 499.5L170.0 507.0L170.0 508.0L162.5 523.5L161.5 527.0L160.0 529.5L160.0 530.5L158.5 533.0L158.5 534.0L156.0 539.5L151.5 544.5L147.0 547.0L142.0 548.0L141.5 548.5L139.0 548.5L138.5 549.0L125.5 550.5L122.0 551.5L119.0 551.5L118.5 552.0L112.5 552.5L109.0 553.5L106.0 553.5L102.5 554.5L96.0 555.0L95.5 555.5L89.5 556.0L86.0 557.0L83.0 557.0L79.5 558.0L76.5 558.0L73.0 559.0L66.5 559.5L66.0 560.0L60.0 560.5L56.5 561.5L53.5 561.5L50.0 562.5L43.5 563.0L40.0 564.0L37.0 564.0L36.5 564.5L30.5 565.0L27.0 566.0L24.0 566.0L20.5 567.0L14.0 567.5L13.5 568.0L7.5 568.5L4.0 569.5L0.0 569.5L0.0 601.5L849.5 601.5Z"/><path fill="#4eb873" d="M849.5 216.0L825.0 216.0L824.5 215.5L813.0 215.5L812.5 215.0L790.5 215.0L790.0 214.5L769.0 214.5L768.5 214.0L692.5 214.0L692.0 214.5L672.0 214.5L671.5 215.0L658.5 215.0L658.0 215.5L648.0 215.5L647.5 216.0L630.0 216.5L629.5 217.0L626.0 217.0L625.5 217.5L619.5 217.5L619.0 218.0L601.0 219.0L600.5 219.5L596.5 219.5L596.0 220.0L593.0 220.0L592.5 220.5L578.5 221.5L575.0 222.5L560.0 224.0L559.5 224.5L554.5 225.0L554.0 225.5L547.5 226.0L547.0 226.5L545.0 226.5L542.0 227.5L539.0 227.5L538.5 228.0L536.0 228.0L535.5 228.5L533.5 228.5L533.0 229.0L531.0 229.0L528.0 230.0L523.0 230.5L518.5 232.0L516.0 232.0L509.0 234.0L507.0 234.0L506.5 234.5L504.5 234.5L497.5 236.5L495.5 236.5L495.0 237.0L481.5 240.0L479.5 241.0L476.0 241.5L474.0 242.5L470.5 243.0L465.5 245.0L462.5 245.5L461.0 246.5L450.0 250.0L443.0 253.5L442.0 253.5L441.0 254.5L433.0 258.5L425.5 263.5L415.5 271.5L405.0 278.0L404.0 278.0L394.5 282.5L377.5 287.5L375.5 287.5L371.0 289.0L369.0 289.0L366.5 290.0L364.5 290.0L362.0 291.0L360.0 291.0L357.5 292.0L355.5 292.0L353.0 293.0L347.0 294.0L327.0 300.5L323.0 303.0L321.0 303.5L315.5 306.5L314.0 308.0L309.0 311.0L302.5 316.5L278.0 344.5L271.5 353.0L264.0 361.5L257.5 370.5L255.0 373.0L247.0 383.5L246.0 385.5L230.0 407.0L229.5 408.5L224.5 415.0L224.0 416.5L217.5 425.5L215.5 429.5L213.0 432.5L193.5 465.0L176.0 498.5L176.0 499.5L172.0 507.0L172.0 508.0L164.5 523.5L163.5 527.0L162.0 529.5L162.0 530.5L157.5 540.5L152.5 546.0L147.0 549.0L145.5 549.0L143.0 550.0L137.0 550.5L136.5 551.0L130.5 551.5L130.0 552.0L127.0 552.0L126.5 552.5L120.5 553.0L117.0 554.0L114.0 554.0L110.5 555.0L107.5 555.0L104.0 556.0L97.5 556.5L94.0 557.5L91.0 557.5L87.5 558.5L84.5 558.5L81.0 559.5L78.0 559.5L74.5 560.5L68.0 561.0L64.5 562.0L61.5 562.0L58.0 563.0L55.0 563.0L51.5 564.0L45.0 564.5L41.5 565.5L38.5 565.5L35.0 566.5L32.0 566.5L28.5 567.5L25.5 567.5L22.0 568.5L19.0 568.5L18.5 569.0L15.5 569.0L12.0 570.0L9.0 570.0L8.5 570.5L0.0 571.5L0.0 601.5L849.5 601.5Z"/><path fill="#51b86e" d="M849.5 218.0L823.0 217.5L822.5 217.0L801.5 217.0L801.0 216.5L789.0 216.5L788.5 216.0L746.0 216.0L745.5 215.5L679.5 216.0L679.0 216.5L664.5 216.5L664.0 217.0L653.0 217.0L652.5 217.5L643.5 217.5L643.0 218.0L628.5 218.5L628.0 219.0L624.5 219.0L624.0 219.5L617.5 219.5L617.0 220.0L600.0 221.0L599.5 221.5L596.5 221.5L596.0 222.0L583.0 223.0L582.5 223.5L579.0 223.5L578.5 224.0L575.5 224.0L572.0 225.0L561.0 226.0L560.5 226.5L558.5 226.5L555.5 227.5L549.0 228.0L548.5 228.5L546.0 228.5L545.5 229.0L543.5 229.0L540.5 230.0L535.0 230.5L532.5 231.5L530.5 231.5L530.0 232.0L525.0 232.5L520.5 234.0L516.0 234.5L511.5 236.0L504.5 237.0L502.5 238.0L498.5 238.5L498.0 239.0L484.5 242.0L472.0 246.0L470.5 246.0L463.0 248.5L461.5 249.5L456.0 251.0L454.5 252.0L452.0 252.5L442.0 257.0L441.0 258.0L432.5 262.5L429.5 265.0L428.0 265.5L426.0 267.5L413.5 276.5L403.0 282.0L402.0 282.0L398.0 284.0L379.5 289.5L377.5 289.5L370.5 291.5L368.5 291.5L363.5 293.0L361.5 293.0L361.0 293.5L359.0 293.5L358.5 294.0L356.5 294.0L354.0 295.0L348.0 296.0L327.5 302.5L317.5 307.5L310.0 312.5L299.0 323.0L265.5 362.5L259.0 371.5L253.0 378.5L234.0 404.5L213.0 436.0L209.5 442.5L205.0 449.0L200.0 458.5L196.0 464.5L187.0 482.0L186.0 483.0L186.0 484.0L184.5 486.0L177.0 501.0L176.5 503.0L175.5 504.0L175.5 505.0L173.0 509.5L172.5 511.5L171.5 512.5L171.5 513.5L165.5 526.0L165.5 527.0L161.5 535.5L160.0 540.0L158.0 543.0L153.5 547.5L149.5 550.0L142.5 552.0L140.0 552.0L139.5 552.5L126.5 554.0L123.0 555.0L120.0 555.0L119.5 555.5L113.5 556.0L110.0 557.0L107.0 557.0L103.5 558.0L97.0 558.5L96.5 559.0L90.5 559.5L87.0 560.5L84.0 560.5L80.5 561.5L77.5 561.5L74.0 562.5L67.5 563.0L67.0 563.5L61.0 564.0L57.5 565.0L54.5 565.0L51.0 566.0L44.5 566.5L41.0 567.5L38.0 567.5L37.5 568.0L31.5 568.5L28.0 569.5L25.0 569.5L21.5 570.5L15.0 571.0L14.5 571.5L8.5 572.0L5.0 573.0L0.0 573.0L0.0 601.5L849.5 601.5Z"/><path fill="#54b96a" d="M849.5 219.5L830.0 219.5L829.5 219.0L820.0 219.0L819.5 218.5L792.5 218.5L792.0 218.0L773.0 218.0L772.5 217.5L687.0 217.5L686.5 218.0L671.0 218.0L670.5 218.5L659.0 218.5L658.5 219.0L649.0 219.0L648.5 219.5L632.0 220.0L631.5 220.5L622.5 221.0L622.0 221.5L616.5 221.5L616.0 222.0L599.5 223.0L596.0 224.0L583.5 225.0L583.0 225.5L576.0 226.0L573.0 227.0L562.0 228.0L561.5 228.5L559.5 228.5L556.5 229.5L550.5 230.0L550.0 230.5L547.5 230.5L547.0 231.0L545.0 231.0L544.5 231.5L542.5 231.5L539.5 232.5L532.0 233.5L529.5 234.5L527.5 234.5L520.5 236.5L514.0 237.5L509.5 239.0L505.0 239.5L503.0 240.5L493.5 242.5L491.5 243.5L487.5 244.0L479.0 247.0L474.0 248.0L462.0 252.0L456.5 254.5L454.0 255.0L443.0 260.0L430.0 268.0L422.0 274.5L416.0 278.5L406.5 283.5L405.5 283.5L399.0 286.5L382.0 291.5L380.0 291.5L379.5 292.0L375.0 292.5L372.5 293.5L370.5 293.5L370.0 294.0L368.0 294.0L367.5 294.5L365.5 294.5L365.0 295.0L363.0 295.0L362.5 295.5L360.5 295.5L360.0 296.0L358.0 296.0L357.5 296.5L349.0 298.0L347.0 299.0L338.0 301.0L330.5 303.5L327.0 305.5L326.0 305.5L319.0 309.0L312.0 313.5L306.5 318.0L300.0 325.0L266.5 364.5L260.0 373.5L257.5 376.0L251.0 384.5L250.0 386.5L234.0 408.0L232.5 411.0L228.5 416.0L227.0 419.0L220.5 428.0L218.5 432.0L216.0 435.0L196.5 467.5L179.5 500.0L179.5 501.0L175.5 508.5L175.5 509.5L168.0 525.0L167.0 528.5L160.5 543.0L155.5 548.5L148.5 552.5L145.0 553.5L143.0 553.5L142.5 554.0L136.5 554.5L136.0 555.0L130.0 555.5L129.5 556.0L126.5 556.0L126.0 556.5L120.0 557.0L116.5 558.0L113.5 558.0L110.0 559.0L107.0 559.0L103.5 560.0L97.0 560.5L96.5 561.0L90.5 561.5L87.0 562.5L84.0 562.5L80.5 563.5L77.5 563.5L74.0 564.5L67.5 565.0L67.0 565.5L61.0 566.0L57.5 567.0L54.5 567.0L51.0 568.0L44.5 568.5L44.0 569.0L38.0 569.5L34.5 570.5L31.5 570.5L28.0 571.5L25.0 571.5L21.5 572.5L15.0 573.0L14.5 573.5L8.5 574.0L5.0 575.0L0.0 575.0L0.0 601.5L849.5 601.5Z"/><path fill="#58ba66" d="M849.5 221.5L809.5 220.5L809.0 220.0L748.0 219.5L747.5 219.0L696.0 219.0L695.5 219.5L678.5 219.5L678.0 220.0L665.0 220.0L664.5 220.5L654.5 220.5L654.0 221.0L645.5 221.0L645.0 221.5L630.0 222.0L629.5 222.5L626.5 222.5L626.0 223.0L621.0 223.0L620.5 223.5L615.0 223.5L614.5 224.0L599.0 225.0L596.0 226.0L588.0 226.5L587.5 227.0L584.0 227.0L583.5 227.5L576.5 228.0L573.5 229.0L563.5 230.0L563.0 230.5L560.5 230.5L560.0 231.0L558.0 231.0L555.0 232.0L552.0 232.0L551.5 232.5L549.0 232.5L548.5 233.0L534.0 235.5L533.5 236.0L525.0 237.5L518.5 239.5L516.5 239.5L516.0 240.0L494.5 245.0L492.5 246.0L489.0 246.5L472.5 252.0L471.0 252.0L468.0 253.5L460.0 256.0L453.5 259.0L452.5 259.0L445.0 262.5L432.0 270.5L422.5 278.0L416.0 282.0L401.5 288.5L397.0 290.0L395.5 290.0L392.0 291.5L388.5 292.0L386.5 293.0L384.5 293.0L382.0 294.0L380.0 294.0L379.5 294.5L377.5 294.5L377.0 295.0L375.0 295.0L374.5 295.5L372.5 295.5L372.0 296.0L370.0 296.0L369.5 296.5L367.5 296.5L367.0 297.0L365.0 297.0L362.0 298.0L354.5 299.0L354.0 299.5L340.5 302.5L337.0 304.0L332.5 305.0L326.5 308.0L325.5 308.0L320.5 310.5L311.5 316.5L305.5 322.0L297.0 331.5L266.0 368.5L263.0 373.0L252.5 386.0L251.5 388.0L235.5 409.5L235.0 411.0L230.0 417.5L229.5 419.0L223.0 428.0L221.0 432.0L218.5 435.0L199.0 467.5L181.0 502.0L181.0 503.0L177.0 510.5L177.0 511.5L169.5 527.0L168.5 530.5L167.0 533.0L167.0 534.0L165.5 536.5L165.5 537.5L163.0 543.0L157.5 549.5L153.5 552.5L150.5 554.0L143.5 556.0L137.5 556.5L137.0 557.0L131.0 557.5L130.5 558.0L127.5 558.0L127.0 558.5L121.0 559.0L117.5 560.0L114.5 560.0L111.0 561.0L108.0 561.0L104.5 562.0L98.0 562.5L97.5 563.0L91.5 563.5L88.0 564.5L85.0 564.5L81.5 565.5L78.5 565.5L75.0 566.5L68.5 567.0L68.0 567.5L62.0 568.0L58.5 569.0L55.5 569.0L52.0 570.0L45.5 570.5L45.0 571.0L39.0 571.5L35.5 572.5L32.5 572.5L29.0 573.5L26.0 573.5L22.5 574.5L16.0 575.0L15.5 575.5L9.5 576.0L6.0 577.0L0.0 577.0L0.0 601.5L849.5 601.5Z"/><path fill="#5bbb62" d="M849.5 223.0L831.0 223.0L830.5 222.5L821.0 222.5L820.5 222.0L797.5 222.0L797.0 221.5L785.0 221.5L784.5 221.0L744.0 221.0L743.5 220.5L686.0 221.0L685.5 221.5L671.5 221.5L671.0 222.0L660.5 222.0L660.0 222.5L651.0 222.5L650.5 223.0L643.0 223.0L642.5 223.5L629.5 224.0L629.0 224.5L625.5 224.5L625.0 225.0L620.0 225.0L619.5 225.5L614.5 225.5L614.0 226.0L599.0 227.0L596.0 228.0L580.5 229.5L580.0 230.0L577.0 230.0L576.5 230.5L571.5 231.0L571.0 231.5L561.5 232.5L556.5 234.0L548.0 235.0L545.5 236.0L543.5 236.0L543.0 236.5L533.5 238.0L527.0 240.0L525.0 240.0L521.0 241.5L517.0 242.0L516.5 242.5L503.0 245.5L501.0 246.5L497.5 247.0L492.0 249.0L488.5 249.5L479.0 253.0L477.5 253.0L457.0 260.5L443.5 267.0L437.0 271.0L422.0 282.0L408.0 289.0L405.5 289.5L404.0 290.5L398.0 292.5L396.5 292.5L394.5 293.5L393.0 293.5L387.0 295.5L385.0 295.5L384.5 296.0L382.5 296.0L382.0 296.5L380.0 296.5L377.5 297.5L372.5 298.0L372.0 298.5L370.0 298.5L367.0 299.5L364.5 299.5L361.5 300.5L359.0 300.5L358.5 301.0L354.0 301.5L347.5 303.5L345.5 303.5L343.5 304.5L336.5 306.0L331.0 308.0L328.5 309.5L327.5 309.5L315.0 316.5L309.5 321.0L303.5 327.5L270.0 367.0L263.5 376.0L261.0 378.5L254.5 387.0L253.5 389.0L237.5 410.5L236.0 413.5L232.0 418.5L230.5 421.5L224.0 430.5L222.0 434.5L219.5 437.5L201.5 467.5L192.5 485.0L191.5 486.0L191.5 487.0L190.0 489.0L182.5 504.0L182.0 506.0L181.0 507.0L181.0 508.0L178.5 512.5L178.0 514.5L177.0 515.5L177.0 516.5L171.0 529.0L171.0 530.0L167.0 538.5L165.5 543.0L162.5 547.5L158.0 552.0L152.5 555.5L144.5 558.0L135.5 559.0L132.0 560.0L129.0 560.0L128.5 560.5L125.5 560.5L122.0 561.5L119.0 561.5L115.5 562.5L112.5 562.5L109.0 563.5L106.0 563.5L102.5 564.5L96.0 565.0L95.5 565.5L89.5 566.0L86.0 567.0L83.0 567.0L79.5 568.0L76.5 568.0L73.0 569.0L66.5 569.5L66.0 570.0L60.0 570.5L56.5 571.5L53.5 571.5L50.0 572.5L43.5 573.0L43.0 573.5L37.0 574.0L33.5 575.0L30.5 575.0L27.0 576.0L24.0 576.0L20.5 577.0L14.0 577.5L13.5 578.0L7.5 578.5L4.0 579.5L0.0 579.5L0.0 601.5L849.5 601.5Z"/><path fill="#5ebc5e" d="M849.5 225.0L823.0 224.5L822.5 224.0L809.5 224.0L809.0 223.5L768.5 223.0L768.0 222.5L696.0 222.5L695.5 223.0L667.0 223.5L666.5 224.0L657.0 224.0L656.5 224.5L633.5 225.5L633.0 226.0L628.5 226.0L628.0 226.5L625.0 226.5L624.5 227.0L619.0 227.0L618.5 227.5L614.0 227.5L613.5 228.0L608.5 228.0L608.0 228.5L599.5 229.0L599.0 229.5L596.5 229.5L593.0 230.5L589.0 230.5L588.5 231.0L585.5 231.0L585.0 231.5L578.0 232.0L577.5 232.5L575.5 232.5L572.5 233.5L563.0 234.5L562.5 235.0L560.5 235.0L560.0 235.5L558.0 235.5L557.5 236.0L555.5 236.0L552.5 237.0L550.0 237.0L549.5 237.5L540.5 239.0L538.0 240.0L535.5 240.0L535.0 240.5L521.5 243.5L519.5 244.5L517.5 244.5L511.5 246.5L504.0 248.0L500.5 249.5L497.0 250.0L490.0 252.5L488.5 252.5L487.0 253.5L484.0 254.0L473.5 257.5L472.0 258.5L465.5 260.5L464.0 261.5L458.0 263.5L454.5 265.5L453.5 265.5L441.5 272.0L423.0 285.0L416.5 288.5L415.5 288.5L412.0 290.5L409.5 291.0L405.5 293.0L390.0 297.5L388.0 297.5L387.5 298.0L385.5 298.0L385.0 298.5L383.0 298.5L382.5 299.0L380.5 299.0L380.0 299.5L378.0 299.5L377.5 300.0L375.5 300.0L372.5 301.0L367.0 301.5L366.5 302.0L358.5 303.0L351.5 305.0L349.5 305.0L349.0 305.5L339.5 307.5L333.5 309.5L328.5 312.0L327.5 312.0L317.5 317.5L312.5 321.5L308.0 326.5L306.0 328.0L303.5 331.5L302.5 332.0L299.5 336.0L298.5 336.5L272.5 367.5L266.0 376.5L263.5 379.0L257.0 387.5L256.0 389.5L240.0 411.0L238.5 414.0L234.5 419.0L233.0 422.0L226.5 431.0L224.5 435.0L222.0 438.0L202.5 470.5L185.5 503.0L185.5 504.0L181.5 511.5L181.5 512.5L174.0 528.0L173.0 531.5L166.5 546.0L161.5 552.0L156.5 556.0L151.5 558.5L146.5 560.0L144.5 560.0L144.0 560.5L138.0 561.0L137.5 561.5L131.5 562.0L131.0 562.5L128.0 562.5L127.5 563.0L121.5 563.5L118.0 564.5L115.0 564.5L111.5 565.5L108.5 565.5L105.0 566.5L98.5 567.0L98.0 567.5L92.0 568.0L88.5 569.0L85.5 569.0L82.0 570.0L79.0 570.0L75.5 571.0L69.0 571.5L68.5 572.0L62.5 572.5L59.0 573.5L56.0 573.5L52.5 574.5L46.0 575.0L45.5 575.5L39.5 576.0L36.0 577.0L33.0 577.0L29.5 578.0L26.5 578.0L23.0 579.0L16.5 579.5L16.0 580.0L10.0 580.5L6.5 581.5L0.0 581.5L0.0 601.5L849.5 601.5Z"/><path fill="#62bd5a" d="M849.5 227.0L848.0 226.5L828.5 226.5L828.0 226.0L818.5 226.0L818.0 225.5L796.5 225.5L796.0 225.0L784.0 225.0L783.5 224.5L743.5 224.5L743.0 224.0L688.5 224.5L688.0 225.0L675.0 225.0L674.5 225.5L664.0 225.5L663.5 226.0L654.5 226.0L654.0 226.5L646.0 226.5L645.5 227.0L632.5 227.5L632.0 228.0L628.0 228.0L627.5 228.5L624.0 228.5L623.5 229.0L618.5 229.0L618.0 229.5L613.5 229.5L613.0 230.0L600.0 231.0L599.5 231.5L597.0 231.5L593.5 232.5L590.0 232.5L589.5 233.0L579.0 234.0L578.5 234.5L576.5 234.5L573.5 235.5L561.5 237.0L559.0 238.0L557.0 238.0L556.5 238.5L554.5 238.5L551.5 239.5L549.0 239.5L544.5 241.0L535.5 242.5L531.5 244.0L522.0 246.0L520.0 247.0L512.5 248.5L510.5 249.5L507.0 250.0L500.0 252.5L495.0 253.5L477.0 259.5L475.5 260.5L473.0 261.0L471.5 262.0L469.0 262.5L459.0 267.0L458.0 267.0L444.5 274.0L427.5 286.0L416.0 292.0L408.5 294.5L407.0 295.5L391.0 300.0L389.0 300.0L388.5 300.5L386.5 300.5L386.0 301.0L384.0 301.0L383.5 301.5L381.5 301.5L378.5 302.5L373.0 303.0L370.0 304.0L358.5 305.5L354.0 307.0L347.0 308.0L335.0 311.5L327.5 315.0L326.5 315.0L323.0 317.5L320.5 318.5L314.5 323.0L306.0 332.0L290.0 351.0L286.5 354.5L262.0 385.0L236.5 420.5L235.0 423.5L228.5 432.5L226.5 436.5L224.0 439.5L218.0 450.0L216.5 451.5L208.5 466.0L204.5 472.0L188.0 503.5L188.0 504.5L180.5 519.5L180.5 520.5L178.5 524.0L178.5 525.0L176.5 528.5L176.5 529.5L172.5 538.0L171.5 541.5L168.5 547.5L162.5 554.5L158.0 558.0L152.0 561.0L145.0 562.5L144.5 563.0L138.5 563.5L138.0 564.0L132.0 564.5L131.5 565.0L128.5 565.0L128.0 565.5L122.0 566.0L118.5 567.0L115.5 567.0L112.0 568.0L109.0 568.0L105.5 569.0L99.0 569.5L98.5 570.0L92.5 570.5L89.0 571.5L86.0 571.5L82.5 572.5L79.5 572.5L76.0 573.5L69.5 574.0L69.0 574.5L63.0 575.0L59.5 576.0L56.5 576.0L53.0 577.0L46.5 577.5L46.0 578.0L40.0 578.5L36.5 579.5L33.5 579.5L30.0 580.5L27.0 580.5L23.5 581.5L17.0 582.0L16.5 582.5L10.5 583.0L7.0 584.0L0.0 584.0L0.0 601.5L849.5 601.5Z"/><path fill="#65be55" d="M849.5 228.5L833.0 228.5L832.5 228.0L822.0 228.0L821.5 227.5L801.5 227.5L801.0 227.0L788.5 227.0L788.0 226.5L748.5 226.5L748.0 226.0L684.0 226.5L683.5 227.0L670.5 227.0L670.0 227.5L660.5 227.5L660.0 228.0L652.0 228.0L651.5 228.5L632.0 229.5L631.5 230.0L628.0 230.0L627.5 230.5L623.5 230.5L623.0 231.0L618.5 231.0L618.0 231.5L600.5 233.0L600.0 233.5L597.5 233.5L594.0 234.5L590.5 234.5L587.0 235.5L577.5 236.5L574.5 237.5L572.0 237.5L569.0 238.5L561.0 239.5L560.5 240.0L551.5 241.5L551.0 242.0L548.5 242.0L540.0 244.5L535.5 245.0L530.0 247.0L524.5 248.0L522.5 249.0L519.0 249.5L517.0 250.5L506.5 253.0L501.5 255.0L496.5 256.0L489.0 258.5L487.5 259.5L479.0 262.0L475.0 264.0L472.5 264.5L471.0 265.5L465.0 267.5L452.0 273.5L451.0 274.5L446.0 277.0L429.5 288.5L420.0 293.5L419.0 293.5L416.5 295.0L405.5 299.0L404.0 299.0L402.0 300.0L400.5 300.0L390.0 303.0L387.5 303.0L387.0 303.5L385.0 303.5L384.5 304.0L382.5 304.0L379.5 305.0L377.0 305.0L376.5 305.5L374.0 305.5L373.5 306.0L371.0 306.0L370.5 306.5L368.0 306.5L367.5 307.0L365.0 307.0L364.5 307.5L362.0 307.5L361.5 308.0L349.5 310.0L349.0 310.5L339.5 312.5L338.0 313.5L330.5 316.0L322.0 320.5L315.5 325.5L305.5 336.5L276.0 371.5L269.5 380.5L267.0 383.0L260.5 391.5L259.5 393.5L243.5 415.0L243.0 416.5L238.0 423.0L237.5 424.5L231.0 433.5L229.0 437.5L226.5 440.5L207.0 473.0L190.0 505.5L190.0 506.5L186.0 514.0L186.0 515.0L178.5 530.5L177.5 534.0L171.0 548.5L168.5 552.0L162.5 558.0L159.0 560.5L154.0 563.0L145.5 565.5L139.5 566.0L139.0 566.5L133.0 567.0L132.5 567.5L129.5 567.5L129.0 568.0L123.0 568.5L119.5 569.5L116.5 569.5L113.0 570.5L110.0 570.5L106.5 571.5L100.0 572.0L99.5 572.5L93.5 573.0L90.0 574.0L87.0 574.0L83.5 575.0L80.5 575.0L77.0 576.0L70.5 576.5L70.0 577.0L64.0 577.5L60.5 578.5L57.5 578.5L54.0 579.5L47.5 580.0L47.0 580.5L41.0 581.0L37.5 582.0L34.5 582.0L31.0 583.0L28.0 583.0L24.5 584.0L18.0 584.5L17.5 585.0L11.5 585.5L8.0 586.5L0.0 587.0L0.0 601.5L849.5 601.5Z"/><path fill="#69bf51" d="M849.5 230.5L823.5 230.0L823.0 229.5L811.5 229.5L811.0 229.0L772.0 228.5L771.5 228.0L694.0 228.0L693.5 228.5L667.5 229.0L667.0 229.5L659.0 229.5L658.5 230.0L651.0 230.0L650.5 230.5L631.5 231.5L631.0 232.0L627.5 232.0L627.0 232.5L623.5 232.5L623.0 233.0L619.0 233.0L618.5 233.5L614.0 233.5L613.5 234.0L609.5 234.0L609.0 234.5L605.5 234.5L605.0 235.0L601.0 235.0L600.5 235.5L598.0 235.5L594.5 236.5L591.5 236.5L588.0 237.5L578.5 238.5L576.0 239.5L573.5 239.5L573.0 240.0L571.0 240.0L568.0 241.0L565.0 241.0L564.5 241.5L562.5 241.5L555.5 243.5L548.5 244.5L540.0 247.0L536.0 247.5L530.5 249.5L525.0 250.5L521.5 252.0L520.0 252.0L518.0 253.0L516.5 253.0L511.0 255.0L506.0 256.0L504.5 257.0L501.5 257.5L489.5 261.5L488.0 262.5L482.5 264.0L481.0 265.0L478.5 265.5L476.0 267.0L473.5 267.5L471.0 269.0L467.5 270.0L465.0 271.5L464.0 271.5L453.5 276.5L443.0 283.0L436.5 288.0L423.0 295.5L405.5 302.0L404.0 302.0L402.0 303.0L400.5 303.0L394.0 305.0L387.0 306.0L386.5 306.5L384.0 306.5L381.0 307.5L372.0 308.5L371.5 309.0L369.0 309.0L368.5 309.5L366.0 309.5L365.5 310.0L363.0 310.0L362.5 310.5L360.5 310.5L357.5 311.5L350.0 312.5L349.5 313.0L342.0 314.5L332.5 318.0L323.0 323.0L316.0 329.0L307.5 338.5L278.0 373.5L271.5 382.5L265.5 389.5L248.0 413.5L227.0 445.0L223.5 451.5L219.0 458.0L214.0 467.5L210.0 473.5L192.5 507.0L192.5 508.0L188.5 515.5L188.5 516.5L181.0 532.0L180.0 535.5L178.5 538.0L178.5 539.0L174.0 549.0L170.5 554.0L164.5 560.0L159.5 563.5L155.5 565.5L147.0 568.0L145.0 568.0L144.5 568.5L138.5 569.0L138.0 569.5L132.0 570.0L131.5 570.5L128.5 570.5L128.0 571.0L122.0 571.5L118.5 572.5L115.5 572.5L112.0 573.5L109.0 573.5L105.5 574.5L99.0 575.0L98.5 575.5L92.5 576.0L89.0 577.0L86.0 577.0L82.5 578.0L79.5 578.0L76.0 579.0L69.5 579.5L69.0 580.0L63.0 580.5L59.5 581.5L56.5 581.5L53.0 582.5L46.5 583.0L46.0 583.5L40.0 584.0L36.5 585.0L33.5 585.0L30.0 586.0L27.0 586.0L23.5 587.0L17.0 587.5L16.5 588.0L10.5 588.5L7.0 589.5L0.0 589.5L0.0 601.5L849.5 601.5Z"/><path fill="#6cc04d" d="M849.5 232.5L829.0 232.0L828.5 231.5L819.0 231.5L818.5 231.0L798.5 231.0L798.0 230.5L786.0 230.5L785.5 230.0L744.5 230.0L744.0 229.5L688.0 230.0L687.5 230.5L665.5 231.0L665.0 231.5L657.0 231.5L656.5 232.0L650.0 232.0L649.5 232.5L631.5 233.5L631.0 234.0L628.0 234.0L627.5 234.5L623.5 234.5L623.0 235.0L619.0 235.0L618.5 235.5L614.5 235.5L614.0 236.0L602.0 237.0L601.5 237.5L599.0 237.5L598.5 238.0L596.0 238.0L595.5 238.5L593.0 238.5L589.5 239.5L580.0 240.5L575.0 242.0L572.5 242.0L569.5 243.0L562.0 244.0L557.5 245.5L555.5 245.5L553.0 246.5L546.5 247.5L540.5 249.5L536.5 250.0L529.5 252.5L528.0 252.5L519.0 255.5L515.5 256.0L507.5 259.0L506.0 259.0L504.5 260.0L500.0 261.0L494.0 263.5L491.5 264.0L490.0 265.0L486.0 266.0L484.5 267.0L482.0 267.5L479.5 269.0L473.5 271.0L471.0 272.5L467.5 273.5L461.0 277.0L460.0 277.0L458.0 278.5L450.0 282.5L435.5 292.5L424.0 298.5L423.0 298.5L420.5 300.0L418.0 300.5L411.0 303.5L409.5 303.5L407.5 304.5L406.0 304.5L404.0 305.5L402.5 305.5L396.0 307.5L389.0 308.5L388.5 309.0L386.0 309.0L385.5 309.5L380.5 310.0L380.0 310.5L377.0 310.5L373.5 311.5L370.5 311.5L370.0 312.0L367.5 312.0L367.0 312.5L364.5 312.5L364.0 313.0L362.0 313.0L359.0 314.0L356.5 314.0L356.0 314.5L349.0 315.5L333.5 320.5L324.5 325.5L321.5 328.0L305.5 345.5L278.0 378.5L250.0 416.0L229.0 447.5L217.0 467.5L216.0 470.0L213.5 473.5L205.0 490.0L204.0 491.0L203.5 493.0L202.5 494.0L194.5 510.0L194.5 511.0L193.0 513.0L193.0 514.0L190.5 518.5L190.5 519.5L189.5 520.5L189.0 522.5L187.0 526.0L187.0 527.0L185.0 530.5L185.0 531.5L180.5 541.0L178.0 548.0L174.0 554.5L167.5 561.5L158.5 567.5L148.0 571.0L139.0 572.0L135.5 573.0L132.5 573.0L132.0 573.5L129.0 573.5L125.5 574.5L122.5 574.5L119.0 575.5L116.0 575.5L112.5 576.5L109.5 576.5L106.0 577.5L99.5 578.0L99.0 578.5L93.0 579.0L89.5 580.0L86.5 580.0L83.0 581.0L80.0 581.0L76.5 582.0L70.0 582.5L69.5 583.0L63.5 583.5L60.0 584.5L57.0 584.5L53.5 585.5L47.0 586.0L46.5 586.5L40.5 587.0L37.0 588.0L34.0 588.0L30.5 589.0L27.5 589.0L24.0 590.0L17.5 590.5L17.0 591.0L11.0 591.5L7.5 592.5L0.0 593.0L0.0 601.5L849.5 601.5Z"/><path fill="#6fc149" d="M849.5 234.0L831.5 234.0L831.0 233.5L821.0 233.5L820.5 233.0L800.5 233.0L800.0 232.5L768.0 232.0L767.5 231.5L706.0 231.5L705.5 232.0L685.5 232.0L685.0 232.5L664.5 233.0L664.0 233.5L656.0 233.5L655.5 234.0L649.5 234.0L649.0 234.5L643.0 234.5L642.5 235.0L632.0 235.5L631.5 236.0L628.0 236.0L627.5 236.5L624.0 236.5L623.5 237.0L619.5 237.0L619.0 237.5L615.5 237.5L615.0 238.0L607.0 238.5L606.5 239.0L600.0 239.5L599.5 240.0L597.0 240.0L596.5 240.5L594.0 240.5L593.5 241.0L579.0 243.0L576.5 244.0L574.0 244.0L569.0 245.5L564.0 246.0L555.0 248.5L548.5 249.5L543.0 251.5L537.0 252.5L532.0 254.5L530.5 254.5L518.5 258.5L517.0 258.5L497.5 265.0L488.0 269.0L485.5 269.5L470.0 276.5L469.0 276.5L456.0 283.0L435.0 296.5L425.0 301.5L411.5 306.5L410.0 306.5L406.5 308.0L405.0 308.0L398.5 310.0L396.5 310.0L396.0 310.5L394.0 310.5L393.5 311.0L391.5 311.0L388.5 312.0L379.5 313.0L376.0 314.0L373.0 314.0L372.5 314.5L369.5 314.5L369.0 315.0L367.0 315.0L364.0 316.0L353.0 317.5L350.5 318.5L346.5 319.0L336.5 322.5L328.0 327.0L323.5 330.5L312.0 343.0L282.5 378.0L276.0 387.0L268.5 396.0L267.5 398.0L251.5 419.5L250.0 422.5L246.0 427.5L244.5 430.5L238.0 439.5L236.0 443.5L233.5 446.5L215.5 476.5L198.5 509.0L198.5 510.0L194.5 517.5L194.5 518.5L187.0 534.0L186.0 537.5L179.5 552.0L175.0 558.5L169.0 564.5L165.0 567.5L157.5 571.5L147.0 574.5L138.0 575.5L134.5 576.5L131.5 576.5L131.0 577.0L128.0 577.0L124.5 578.0L121.5 578.0L118.0 579.0L115.0 579.0L111.5 580.0L108.5 580.0L105.0 581.0L98.5 581.5L98.0 582.0L92.0 582.5L88.5 583.5L85.5 583.5L82.0 584.5L79.0 584.5L75.5 585.5L69.0 586.0L68.5 586.5L62.5 587.0L59.0 588.0L56.0 588.0L52.5 589.0L46.0 589.5L45.5 590.0L39.5 590.5L36.0 591.5L33.0 591.5L29.5 592.5L26.5 592.5L23.0 593.5L16.5 594.0L16.0 594.5L10.0 595.0L6.5 596.0L0.0 596.0L0.0 601.5L849.5 601.5Z"/><path fill="#73c245" d="M849.5 236.0L832.5 236.0L832.0 235.5L821.5 235.5L821.0 235.0L771.0 234.0L770.5 233.5L696.5 233.5L696.0 234.0L672.0 234.5L671.5 235.0L664.0 235.0L663.5 235.5L656.0 235.5L655.5 236.0L649.0 236.0L648.5 236.5L643.5 236.5L643.0 237.0L637.5 237.0L637.0 237.5L632.5 237.5L632.0 238.0L628.5 238.0L628.0 238.5L624.5 238.5L624.0 239.0L620.5 239.0L620.0 239.5L616.5 239.5L616.0 240.0L612.0 240.0L611.5 240.5L608.5 240.5L608.0 241.0L605.0 241.0L604.5 241.5L601.0 241.5L598.0 242.5L586.5 244.0L586.0 244.5L581.0 245.0L580.5 245.5L573.5 246.5L571.0 247.5L566.0 248.0L565.5 248.5L561.5 249.0L553.0 251.5L549.0 252.0L543.5 254.0L533.0 256.5L528.0 258.5L526.5 258.5L521.5 260.5L520.0 260.5L505.0 265.5L503.5 266.5L498.0 268.0L495.5 269.5L489.0 271.5L475.0 278.0L474.0 278.0L470.5 280.0L469.5 280.0L457.0 286.5L443.5 295.5L436.5 299.0L435.5 300.0L425.0 305.0L412.5 309.5L411.0 309.5L407.5 311.0L406.0 311.0L401.5 312.5L399.5 312.5L399.0 313.0L397.0 313.0L396.5 313.5L394.5 313.5L394.0 314.0L392.0 314.0L389.0 315.0L383.0 315.5L379.5 316.5L373.0 317.0L372.5 317.5L370.0 317.5L367.0 318.5L355.5 320.0L353.0 321.0L349.0 321.5L338.5 325.0L331.0 329.0L327.0 332.0L311.0 349.5L283.5 382.5L255.5 420.0L235.5 450.0L232.0 456.5L227.5 463.0L222.5 472.5L218.5 478.5L201.5 511.0L201.5 512.0L197.5 519.5L197.5 520.5L190.0 536.0L189.0 539.5L182.5 554.0L177.5 561.0L171.5 567.0L164.5 572.0L159.5 574.5L150.0 577.5L142.0 578.5L141.5 579.0L138.5 579.0L135.0 580.0L132.0 580.0L131.5 580.5L128.5 580.5L125.0 581.5L122.0 581.5L118.5 582.5L115.5 582.5L112.0 583.5L109.0 583.5L105.5 584.5L99.0 585.0L95.5 586.0L92.5 586.0L89.0 587.0L86.0 587.0L82.5 588.0L79.5 588.0L76.0 589.0L69.5 589.5L66.0 590.5L63.0 590.5L59.5 591.5L56.5 591.5L53.0 592.5L40.0 594.0L36.5 595.0L33.5 595.0L30.0 596.0L27.0 596.0L23.5 597.0L17.0 597.5L16.5 598.0L10.5 598.5L7.0 599.5L0.0 599.5L0.0 601.5L849.5 601.5Z"/><path fill="#76c340" d="M849.5 238.0L833.0 238.0L832.5 237.5L810.0 237.0L809.5 236.5L790.0 236.5L789.5 236.0L772.0 236.0L771.5 235.5L695.5 235.5L695.0 236.0L672.0 236.5L671.5 237.0L663.5 237.0L663.0 237.5L656.0 237.5L655.5 238.0L638.0 239.0L637.5 239.5L633.0 239.5L632.5 240.0L629.0 240.0L628.5 240.5L625.5 240.5L625.0 241.0L621.5 241.0L621.0 241.5L617.5 241.5L617.0 242.0L613.5 242.0L613.0 242.5L609.5 242.5L606.0 243.5L599.5 244.0L599.0 244.5L594.0 245.0L591.0 246.0L580.0 247.5L577.5 248.5L573.0 249.0L570.5 250.0L566.0 250.5L555.5 253.5L549.5 254.5L546.0 256.0L540.5 257.0L527.5 261.5L526.0 261.5L514.0 265.5L512.5 266.5L505.5 268.5L504.0 269.5L496.5 272.0L494.0 273.5L489.0 275.0L475.5 281.5L474.5 281.5L459.0 289.5L446.0 298.0L439.0 301.5L438.0 302.5L426.5 308.0L415.5 312.0L414.0 312.0L405.0 315.0L403.0 315.0L402.5 315.5L393.5 317.0L393.0 317.5L390.5 317.5L390.0 318.0L387.5 318.0L384.0 319.0L377.5 319.5L377.0 320.0L374.5 320.0L374.0 320.5L371.5 320.5L371.0 321.0L356.5 323.0L341.5 327.5L331.5 333.0L313.5 352.5L286.0 385.5L283.0 390.0L274.0 401.0L273.0 403.0L257.0 424.5L256.5 426.0L251.5 432.5L251.0 434.0L248.5 437.0L242.5 447.0L237.5 454.0L234.0 460.5L231.0 464.5L226.0 474.0L222.0 480.0L220.0 484.5L219.0 485.5L205.0 512.5L205.0 513.5L201.0 521.0L201.0 522.0L193.5 537.5L192.5 541.0L186.0 555.5L180.0 564.0L174.5 569.5L168.5 574.0L161.0 578.0L149.5 581.5L144.5 582.0L144.0 582.5L141.0 582.5L137.5 583.5L134.5 583.5L134.0 584.0L131.0 584.0L127.5 585.0L124.5 585.0L121.0 586.0L118.0 586.0L114.5 587.0L111.5 587.0L108.0 588.0L101.5 588.5L98.0 589.5L95.0 589.5L91.5 590.5L88.5 590.5L85.0 591.5L82.0 591.5L78.5 592.5L72.0 593.0L68.5 594.0L65.5 594.0L62.0 595.0L59.0 595.0L55.5 596.0L49.0 596.5L48.5 597.0L42.5 597.5L39.0 598.5L36.0 598.5L32.5 599.5L29.5 599.5L26.0 600.5L16.5 601.5L849.5 601.5Z"/><path fill="#7ac43c" d="M849.5 240.0L822.0 239.5L821.5 239.0L810.5 239.0L810.0 238.5L791.5 238.5L791.0 238.0L772.0 238.0L771.5 237.5L695.0 237.5L694.5 238.0L682.0 238.0L681.5 238.5L672.0 238.5L671.5 239.0L664.0 239.0L663.5 239.5L656.5 239.5L656.0 240.0L644.5 240.5L644.0 241.0L630.0 242.0L626.5 243.0L623.0 243.0L622.5 243.5L619.0 243.5L618.5 244.0L615.0 244.0L614.5 244.5L611.0 244.5L607.5 245.5L598.5 246.5L595.5 247.5L593.0 247.5L590.0 248.5L587.5 248.5L587.0 249.0L575.0 251.0L570.5 252.5L566.0 253.0L565.5 253.5L560.0 254.5L558.0 255.5L548.5 257.5L529.0 264.0L527.5 264.0L517.0 267.5L511.5 270.0L507.5 271.0L506.0 272.0L503.5 272.5L501.0 274.0L500.0 274.0L495.0 276.5L488.0 279.0L482.5 282.0L481.5 282.0L465.5 290.0L443.5 303.5L429.5 310.5L428.5 310.5L419.0 314.5L417.5 314.5L409.0 317.5L405.0 318.0L400.0 319.5L398.0 319.5L397.5 320.0L395.5 320.0L395.0 320.5L392.5 320.5L392.0 321.0L389.5 321.0L386.0 322.0L379.5 322.5L379.0 323.0L376.5 323.0L376.0 323.5L373.5 323.5L373.0 324.0L358.5 326.0L343.5 330.5L335.5 335.0L327.5 343.0L304.0 370.0L280.0 400.0L262.5 424.0L253.0 438.5L251.5 440.0L246.5 448.5L241.5 455.5L238.0 462.0L235.0 466.0L233.5 469.5L223.0 487.0L215.5 502.0L214.5 503.0L201.0 531.0L201.0 532.0L197.0 540.0L196.0 543.5L194.5 546.0L194.5 547.0L190.0 557.0L185.0 564.5L178.5 571.5L173.0 576.0L167.5 579.5L161.0 582.5L151.0 585.5L146.0 586.0L145.5 586.5L142.5 586.5L139.0 587.5L136.0 587.5L135.5 588.0L132.5 588.0L129.0 589.0L126.0 589.0L122.5 590.0L119.5 590.0L116.0 591.0L113.0 591.0L109.5 592.0L103.0 592.5L99.5 593.5L96.5 593.5L93.0 594.5L90.0 594.5L86.5 595.5L83.5 595.5L80.0 596.5L73.5 597.0L70.0 598.0L67.0 598.0L63.5 599.0L60.5 599.0L57.0 600.0L50.5 600.5L47.0 601.5L44.0 601.5L849.5 601.5Z"/><path fill="#7dc538" d="M849.5 242.0L832.5 242.0L832.0 241.5L810.5 241.0L810.0 240.5L772.0 240.0L771.5 239.5L695.0 239.5L694.5 240.0L672.5 240.5L672.0 241.0L665.5 241.0L665.0 241.5L657.5 241.5L657.0 242.0L652.0 242.0L651.5 242.5L646.0 242.5L645.5 243.0L631.0 244.0L627.5 245.0L620.5 245.5L620.0 246.0L617.0 246.0L616.5 246.5L613.0 246.5L612.5 247.0L609.5 247.0L606.0 248.0L600.0 248.5L597.5 249.5L595.0 249.5L594.5 250.0L592.5 250.0L592.0 250.5L587.0 251.0L586.5 251.5L579.5 252.5L577.0 253.5L575.0 253.5L573.0 254.5L568.5 255.0L568.0 255.5L560.5 257.0L558.5 258.0L551.0 259.5L546.0 261.5L544.5 261.5L541.0 263.0L539.5 263.0L535.0 264.5L533.5 265.5L527.5 267.5L526.0 267.5L524.5 268.5L517.5 270.5L513.5 272.5L507.0 274.5L497.5 279.0L490.5 281.5L478.0 288.0L477.0 288.0L476.0 289.0L465.0 294.5L443.5 307.5L431.5 313.5L430.5 313.5L424.0 316.5L415.0 319.5L413.5 319.5L411.5 320.5L405.5 321.5L403.0 322.5L401.0 322.5L400.5 323.0L398.5 323.0L395.5 324.0L393.0 324.0L392.5 324.5L390.0 324.5L389.5 325.0L386.5 325.0L383.0 326.0L374.0 327.0L373.5 327.5L364.5 328.5L364.0 329.0L357.5 330.0L355.5 331.0L354.0 331.0L348.0 333.0L341.0 336.5L337.5 339.0L309.5 370.5L285.0 401.0L255.0 443.0L250.0 451.5L245.0 458.5L241.5 465.0L238.5 469.0L237.0 472.5L226.5 490.0L219.0 505.0L218.0 506.0L205.5 532.0L205.5 533.0L203.5 536.5L203.5 537.5L201.5 541.0L201.5 542.0L197.5 550.5L196.5 554.0L193.5 560.0L190.0 565.5L182.5 574.0L176.0 579.5L170.5 583.0L164.5 586.0L157.5 588.5L156.0 588.5L151.5 590.0L149.5 590.0L149.0 590.5L146.5 590.5L146.0 591.0L143.0 591.0L142.5 591.5L133.0 592.5L132.5 593.0L126.5 593.5L123.0 594.5L120.0 594.5L116.5 595.5L113.5 595.5L110.0 596.5L103.5 597.0L103.0 597.5L97.0 598.0L93.5 599.0L90.5 599.0L87.0 600.0L84.0 600.0L80.5 601.0L74.0 601.5L849.5 601.5Z"/><path fill="#80c634" d="M849.5 244.0L832.0 244.0L831.5 243.5L810.0 243.0L809.5 242.5L790.5 242.5L790.0 242.0L771.5 242.0L771.0 241.5L695.5 241.5L695.0 242.0L673.5 242.5L673.0 243.0L666.5 243.0L666.0 243.5L659.5 243.5L659.0 244.0L653.0 244.0L652.5 244.5L648.0 244.5L647.5 245.0L642.5 245.0L642.0 245.5L637.5 245.5L637.0 246.0L629.5 246.5L629.0 247.0L626.0 247.0L625.5 247.5L615.0 248.5L614.5 249.0L611.5 249.0L611.0 249.5L599.5 251.0L599.0 251.5L582.0 254.5L579.5 255.5L577.5 255.5L571.0 257.5L569.0 257.5L567.0 258.5L563.0 259.0L552.0 262.5L550.5 262.5L525.0 271.0L523.5 272.0L519.5 273.0L510.5 277.0L508.0 277.5L500.0 281.5L496.5 282.5L481.0 290.5L480.0 290.5L479.0 291.5L472.5 294.5L471.5 295.5L469.0 296.5L463.0 300.5L459.5 302.0L442.0 312.5L431.5 317.5L421.0 321.0L419.5 322.0L411.0 324.5L409.0 324.5L408.5 325.0L400.0 326.5L399.5 327.0L397.5 327.0L397.0 327.5L394.5 327.5L394.0 328.0L385.0 329.0L382.0 330.0L379.0 330.0L378.5 330.5L364.0 332.5L352.0 336.0L345.0 339.5L341.0 342.5L323.5 362.0L321.0 365.5L309.0 379.0L307.5 381.5L300.0 390.0L293.5 399.0L287.5 406.0L264.5 438.0L250.0 460.0L246.5 466.5L243.5 470.5L238.5 480.0L234.5 486.0L217.0 519.5L217.0 520.5L207.5 540.0L207.5 541.0L206.0 543.5L206.0 544.5L204.5 547.0L204.5 548.0L203.0 550.5L202.0 554.0L198.5 561.5L194.0 568.5L190.0 573.5L184.0 579.5L179.0 583.5L172.0 588.0L164.5 591.5L150.0 595.5L144.0 596.0L143.5 596.5L137.5 597.0L137.0 597.5L134.0 597.5L133.5 598.0L127.5 598.5L124.0 599.5L121.0 599.5L117.5 600.5L114.5 600.5L111.0 601.5L108.0 601.5L849.5 601.5Z"/><path fill="#84c730" d="M849.5 246.5L820.5 245.5L820.0 245.0L808.0 245.0L807.5 244.5L771.0 244.0L770.5 243.5L697.5 243.5L697.0 244.0L686.0 244.0L685.5 244.5L668.0 245.0L667.5 245.5L649.5 246.5L649.0 247.0L645.0 247.0L644.5 247.5L631.0 248.5L628.0 249.5L624.5 249.5L624.0 250.0L614.0 251.0L613.5 251.5L611.0 251.5L607.5 252.5L604.5 252.5L604.0 253.0L602.0 253.0L601.5 253.5L584.5 256.5L580.0 258.0L576.0 258.5L574.0 259.5L572.0 259.5L571.5 260.0L564.0 261.5L562.0 262.5L553.5 264.5L550.0 266.0L548.5 266.0L541.0 268.5L539.5 269.5L534.0 271.0L532.5 272.0L525.5 274.0L524.0 275.0L521.5 275.5L519.0 277.0L516.5 277.5L514.0 279.0L508.0 281.0L497.0 286.5L496.0 286.5L474.0 298.0L465.5 303.5L457.5 307.5L455.0 309.5L449.0 312.5L444.5 315.5L435.5 320.0L434.5 320.0L428.5 323.0L423.0 324.5L421.5 325.5L417.0 327.0L411.5 328.0L409.5 329.0L407.5 329.0L407.0 329.5L398.0 331.0L397.5 331.5L395.0 331.5L394.5 332.0L392.0 332.0L391.5 332.5L389.0 332.5L388.5 333.0L386.0 333.0L385.5 333.5L383.0 333.5L382.5 334.0L376.5 334.5L376.0 335.0L373.5 335.0L373.0 335.5L366.0 336.5L356.0 339.5L350.0 342.5L347.0 344.5L334.5 358.0L304.0 394.0L297.5 403.0L290.0 412.0L289.0 414.0L275.5 432.0L266.0 446.5L264.5 448.0L259.5 456.5L254.5 463.5L251.0 470.0L248.0 474.0L246.5 477.5L239.0 489.5L233.5 500.5L232.5 501.5L215.0 537.0L215.0 538.0L213.0 541.5L213.0 542.5L207.0 555.5L206.0 559.0L201.5 567.5L196.5 574.5L188.5 583.0L181.0 589.0L175.5 592.5L169.5 595.5L168.5 595.5L161.5 598.5L160.0 598.5L153.5 600.5L151.5 600.5L151.0 601.0L145.5 601.5L849.5 601.5Z"/><path fill="#87c82b" d="M849.5 248.5L828.5 248.0L828.0 247.5L818.5 247.5L818.0 247.0L799.5 247.0L799.0 246.5L787.0 246.5L786.5 246.0L769.5 246.0L769.0 245.5L707.0 245.5L706.5 246.0L688.5 246.0L688.0 246.5L679.5 246.5L679.0 247.0L657.5 248.0L657.0 248.5L652.5 248.5L652.0 249.0L647.5 249.0L647.0 249.5L634.0 250.5L633.5 251.0L630.5 251.0L630.0 251.5L627.0 251.5L626.5 252.0L623.5 252.0L620.0 253.0L617.0 253.0L616.5 253.5L613.5 253.5L613.0 254.0L604.5 255.0L604.0 255.5L597.0 256.5L594.5 257.5L585.0 259.0L584.5 259.5L578.5 260.5L576.5 261.5L565.0 264.0L561.5 265.5L560.0 265.5L558.0 266.5L556.5 266.5L551.5 268.5L550.0 268.5L545.5 270.0L544.0 271.0L540.0 272.0L538.5 273.0L534.5 274.0L533.0 275.0L522.5 278.5L513.0 283.0L509.5 284.0L494.0 291.5L493.0 292.5L483.5 297.0L482.5 298.0L476.5 301.0L471.5 304.5L461.0 310.0L456.0 313.5L453.5 314.5L445.5 319.5L435.5 324.5L434.5 324.5L432.0 326.0L424.5 328.5L423.0 329.5L407.0 334.0L405.0 334.0L404.5 334.5L402.5 334.5L402.0 335.0L400.0 335.0L397.0 336.0L394.5 336.0L394.0 336.5L392.0 336.5L389.0 337.5L386.5 337.5L386.0 338.0L383.5 338.0L383.0 338.5L380.0 338.5L377.0 339.5L372.0 340.0L358.0 344.5L352.5 348.0L348.5 352.0L320.0 384.5L298.0 412.0L273.5 446.0L272.0 449.0L266.5 456.5L263.5 462.0L261.0 465.0L257.5 471.5L253.0 478.0L251.5 481.5L241.0 499.0L225.0 530.5L225.0 531.5L217.5 547.0L217.5 548.0L213.5 556.5L212.5 560.0L208.0 569.0L203.0 576.5L198.0 582.5L187.0 592.5L179.5 597.5L171.0 601.5L849.5 601.5Z"/><path fill="#8ac827" d="M849.5 251.0L848.5 250.5L831.5 250.5L831.0 250.0L810.0 249.5L809.5 249.0L797.5 249.0L797.0 248.5L785.0 248.5L784.5 248.0L709.0 247.5L708.5 248.0L695.5 248.0L695.0 248.5L685.5 248.5L685.0 249.0L674.5 249.0L674.0 249.5L667.5 249.5L667.0 250.0L650.0 251.0L649.5 251.5L645.5 251.5L645.0 252.0L641.5 252.0L641.0 252.5L633.0 253.0L629.5 254.0L623.0 254.5L622.5 255.0L616.5 255.5L616.0 256.0L607.5 257.0L604.5 258.0L602.0 258.0L599.5 259.0L597.5 259.0L595.0 260.0L593.0 260.0L592.5 260.5L586.0 261.5L581.5 263.0L579.5 263.0L576.0 264.5L574.0 264.5L570.0 266.0L563.0 267.5L546.0 273.0L544.5 274.0L542.0 274.5L540.5 275.5L538.0 276.0L536.5 277.0L525.0 281.0L498.0 293.5L497.0 294.5L491.5 297.0L490.5 298.0L480.0 303.5L475.0 307.0L463.0 313.5L447.0 323.5L434.0 330.0L430.5 331.0L425.5 333.5L406.5 339.0L404.5 339.0L402.0 340.0L397.0 340.5L394.5 341.5L392.0 341.5L391.5 342.0L386.5 342.5L383.5 343.5L381.0 343.5L380.5 344.0L378.5 344.0L378.0 344.5L372.5 345.5L366.5 347.5L361.5 350.0L355.5 355.0L326.5 388.0L302.5 418.0L286.5 440.0L265.5 471.5L262.0 478.0L259.0 482.0L257.5 485.5L255.0 489.0L250.5 497.5L249.5 498.5L234.0 528.5L234.0 529.5L224.5 549.0L224.5 550.0L220.0 559.5L217.5 566.5L212.5 575.5L205.0 585.5L196.0 594.5L186.5 601.5L849.5 601.5Z"/><path fill="#8ec923" d="M849.5 253.0L829.0 252.5L828.5 252.0L819.0 252.0L818.5 251.5L799.5 251.5L799.0 251.0L786.5 251.0L786.0 250.5L770.0 250.5L769.5 250.0L707.0 250.0L706.5 250.5L688.0 250.5L687.5 251.0L672.5 251.5L672.0 252.0L659.0 252.5L658.5 253.0L654.0 253.0L653.5 253.5L649.5 253.5L649.0 254.0L645.0 254.0L644.5 254.5L640.0 254.5L639.5 255.0L632.5 255.5L632.0 256.0L629.5 256.0L629.0 256.5L626.5 256.5L623.0 257.5L620.0 257.5L616.5 258.5L613.5 258.5L610.5 259.5L608.0 259.5L607.5 260.0L598.0 261.5L593.5 263.0L591.5 263.0L589.0 264.0L587.0 264.0L586.5 264.5L579.0 266.0L577.0 267.0L573.5 267.5L563.0 271.0L561.5 271.0L548.0 275.5L544.0 277.5L541.5 278.0L530.0 283.0L527.5 283.5L515.0 289.5L514.0 289.5L508.0 292.5L507.0 293.5L502.0 295.5L497.5 298.5L483.5 306.0L475.5 311.5L468.0 316.0L464.5 317.5L460.5 320.5L458.0 321.5L446.5 329.0L428.0 338.0L414.5 342.5L413.0 342.5L404.5 345.0L402.5 345.0L398.0 346.5L396.0 346.5L395.5 347.0L393.5 347.0L393.0 347.5L391.0 347.5L390.5 348.0L388.5 348.0L388.0 348.5L386.0 348.5L385.5 349.0L380.0 350.0L369.5 354.0L366.5 356.0L360.5 362.0L332.0 394.5L310.0 422.0L287.0 454.0L273.5 474.5L270.0 481.0L267.0 485.0L264.0 491.0L255.5 505.0L253.0 510.5L252.0 511.5L238.5 538.5L238.5 539.5L235.0 546.0L235.0 547.0L228.5 561.0L226.0 568.0L220.5 578.5L216.5 584.5L210.0 592.5L200.5 601.5L849.5 601.5Z"/><path fill="#91ca1f" d="M849.5 255.5L830.0 255.0L829.5 254.5L820.0 254.5L819.5 254.0L809.0 254.0L808.5 253.5L783.0 253.0L782.5 252.5L711.0 252.0L710.5 252.5L696.5 252.5L696.0 253.0L687.0 253.0L686.5 253.5L679.5 253.5L679.0 254.0L658.5 255.0L658.0 255.5L654.0 255.5L653.5 256.0L649.5 256.0L649.0 256.5L645.0 256.5L644.5 257.0L633.0 258.0L632.5 258.5L630.0 258.5L629.5 259.0L620.5 260.0L620.0 260.5L617.5 260.5L617.0 261.0L614.5 261.0L614.0 261.5L612.0 261.5L609.0 262.5L604.0 263.0L601.5 264.0L599.5 264.0L597.0 265.0L595.0 265.0L590.5 266.5L586.5 267.0L582.5 268.5L580.5 268.5L577.0 270.0L575.5 270.0L566.5 273.0L565.0 273.0L563.5 274.0L562.0 274.0L556.0 276.5L551.5 277.5L550.0 278.5L536.5 283.5L534.0 285.0L528.0 287.0L522.5 290.0L521.5 290.0L517.0 292.5L515.0 293.0L514.0 294.0L503.5 299.0L494.0 305.0L490.5 306.5L479.5 314.0L461.0 325.0L449.5 333.0L434.0 341.5L433.0 341.5L424.5 345.5L412.5 349.5L411.0 349.5L407.0 351.0L387.5 355.5L382.0 357.5L376.0 360.5L368.0 368.5L354.5 383.5L330.5 412.0L314.5 432.5L294.5 460.5L294.0 462.0L287.5 471.0L285.5 475.0L283.0 478.0L277.0 488.5L275.0 491.0L270.5 499.5L266.5 505.5L261.0 516.5L260.0 517.5L244.5 549.0L244.5 550.0L242.5 553.5L242.5 554.5L236.5 567.5L235.5 571.0L230.5 581.0L222.5 593.0L215.0 601.5L849.5 601.5Z"/><path fill="#94cb1b" d="M849.5 258.0L830.0 257.5L829.5 257.0L820.0 257.0L819.5 256.5L809.0 256.5L808.5 256.0L797.0 256.0L796.5 255.5L784.5 255.5L784.0 255.0L709.5 254.5L709.0 255.0L696.5 255.0L696.0 255.5L687.0 255.5L686.5 256.0L679.5 256.0L679.0 256.5L659.0 257.5L658.5 258.0L654.5 258.0L654.0 258.5L650.0 258.5L649.5 259.0L634.0 260.5L633.5 261.0L631.0 261.0L630.5 261.5L616.0 263.5L615.5 264.0L613.5 264.0L610.5 265.0L608.0 265.0L606.0 266.0L601.0 266.5L600.5 267.0L581.0 271.5L577.5 273.0L575.5 273.0L570.5 275.0L569.0 275.0L558.5 278.5L557.0 279.5L549.0 282.0L543.0 285.0L542.0 285.0L531.0 290.0L530.0 290.0L523.5 293.5L522.5 293.5L508.0 301.0L502.0 305.0L494.5 309.0L473.0 323.5L464.5 328.5L455.5 335.5L439.0 346.0L427.0 352.0L426.0 352.0L419.5 355.0L414.0 356.5L408.0 359.0L406.5 359.0L401.5 361.0L400.0 361.0L395.5 362.5L389.0 365.5L384.0 369.0L364.0 391.0L349.0 408.5L327.0 436.0L305.5 466.0L292.0 486.5L288.5 493.0L285.5 497.0L280.5 506.5L276.5 512.5L261.0 542.5L261.0 543.5L252.0 562.0L251.0 565.5L249.5 568.0L249.5 569.0L248.0 571.5L247.0 575.0L244.5 579.5L243.5 582.5L242.5 583.5L239.0 590.5L231.0 601.5L849.5 601.5Z"/><path fill="#98cc17" d="M849.5 260.5L839.5 260.5L839.0 260.0L829.0 260.0L828.5 259.5L808.0 259.0L807.5 258.5L795.5 258.5L795.0 258.0L783.0 258.0L782.5 257.5L711.0 257.0L710.5 257.5L697.5 257.5L697.0 258.0L688.0 258.0L687.5 258.5L673.5 259.0L673.0 259.5L667.5 259.5L667.0 260.0L662.5 260.0L662.0 260.5L656.0 260.5L655.5 261.0L651.5 261.0L651.0 261.5L639.5 262.5L639.0 263.0L633.0 263.5L632.5 264.0L621.0 265.5L618.0 266.5L615.5 266.5L610.5 268.0L608.0 268.0L605.5 269.0L601.0 269.5L599.0 270.5L597.0 270.5L595.0 271.5L593.0 271.5L591.0 272.5L589.0 272.5L578.5 276.0L576.5 276.0L573.5 277.5L572.0 277.5L560.0 281.5L557.5 283.0L556.0 283.0L554.5 284.0L552.0 284.5L549.5 286.0L548.5 286.0L546.0 287.5L545.0 287.5L542.5 289.0L538.0 290.5L534.5 292.5L533.5 292.5L521.0 299.0L520.0 299.0L515.5 302.0L511.0 304.0L497.0 313.0L495.5 313.5L481.0 324.0L474.5 328.0L471.0 331.0L467.5 333.0L458.0 341.0L447.5 348.5L445.5 350.5L438.0 355.5L430.5 359.5L429.5 360.5L415.5 367.5L414.5 367.5L404.0 372.5L399.5 375.5L374.0 403.0L371.5 406.5L362.0 417.0L340.0 444.5L323.5 467.0L305.5 494.0L302.0 500.5L299.0 504.5L297.5 508.0L295.0 511.5L290.5 520.0L289.5 521.0L282.0 536.0L281.0 537.0L268.0 564.0L268.0 565.0L266.0 568.5L266.0 569.5L262.0 578.0L261.0 581.5L259.0 585.0L259.0 586.0L254.0 595.5L250.0 601.5L849.5 601.5Z"/><path fill="#9bcd12" d="M849.5 263.5L840.0 263.5L839.5 263.0L830.0 263.0L829.5 262.5L820.0 262.5L819.5 262.0L809.5 262.0L809.0 261.5L797.5 261.5L797.0 261.0L785.0 261.0L784.5 260.5L769.0 260.5L768.5 260.0L709.0 260.0L708.5 260.5L687.0 261.0L686.5 261.5L680.0 261.5L679.5 262.0L670.0 262.0L669.5 262.5L664.5 262.5L664.0 263.0L659.5 263.0L659.0 263.5L643.5 265.0L643.0 265.5L630.0 267.0L629.5 267.5L627.0 267.5L624.0 268.5L621.5 268.5L621.0 269.0L609.0 271.0L606.5 272.0L604.5 272.0L604.0 272.5L594.5 274.5L592.5 275.5L590.5 275.5L580.0 279.0L578.5 279.0L562.0 284.5L559.5 286.0L552.0 288.5L534.0 297.0L533.0 297.0L532.0 298.0L520.5 303.5L514.5 307.5L511.0 309.0L500.0 316.5L498.5 317.0L496.5 319.0L493.5 320.5L491.5 322.5L489.5 323.5L485.0 327.5L483.0 328.5L480.5 331.0L478.5 332.0L474.0 336.0L471.5 337.5L437.5 370.0L426.0 380.0L420.0 384.5L396.5 409.5L368.0 443.0L363.0 450.0L357.0 457.0L345.0 474.0L342.0 477.5L338.0 484.0L331.0 493.5L330.5 495.0L326.5 500.5L326.0 502.0L316.5 516.5L315.5 519.0L307.0 533.0L295.5 555.0L295.5 556.0L286.0 575.5L286.0 576.5L282.0 585.0L281.0 588.5L279.0 592.0L279.0 593.0L274.5 601.5L849.5 601.5Z"/><path fill="#9fce0e" d="M849.5 267.0L849.0 266.5L839.5 266.5L839.0 266.0L829.5 266.0L829.0 265.5L819.5 265.5L819.0 265.0L784.5 264.0L784.0 263.5L768.5 263.5L768.0 263.0L709.5 263.0L709.0 263.5L697.0 263.5L696.5 264.0L687.5 264.0L687.0 264.5L674.0 265.0L673.5 265.5L668.5 265.5L668.0 266.0L661.0 266.0L660.5 266.5L656.5 266.5L656.0 267.0L648.5 267.5L648.0 268.0L645.0 268.0L644.5 268.5L641.0 268.5L640.5 269.0L635.0 269.5L632.0 270.5L629.0 270.5L628.5 271.0L611.5 274.0L609.0 275.0L607.0 275.0L604.5 276.0L602.5 276.0L600.5 277.0L599.0 277.0L593.0 279.0L589.5 279.5L586.0 281.0L584.5 281.0L583.0 282.0L579.5 282.5L575.0 284.5L573.5 284.5L572.0 285.5L566.5 287.0L565.0 288.0L554.0 292.0L541.0 298.5L540.0 298.5L523.5 307.0L517.0 311.5L516.0 311.5L513.5 313.0L512.0 314.5L501.0 321.5L499.0 323.5L497.5 324.0L483.5 336.0L475.0 344.0L464.5 357.0L459.0 366.0L458.0 369.0L455.0 374.5L455.0 376.0L453.0 382.0L453.0 387.5L452.5 388.0L452.0 393.0L451.0 396.5L448.5 401.5L445.5 405.5L421.0 431.5L402.0 453.5L382.0 478.5L371.5 493.5L368.5 497.0L350.5 524.0L341.5 539.0L340.5 541.5L338.0 545.0L336.5 548.5L335.5 549.5L328.0 564.5L326.0 567.5L326.0 568.5L316.5 588.0L316.5 589.0L315.0 591.5L315.0 592.5L313.5 595.0L313.5 596.0L311.0 601.5L849.5 601.5Z"/><path fill="#a2cf0a" d="M849.5 270.5L848.0 270.0L838.5 270.0L838.0 269.5L828.5 269.5L828.0 269.0L818.5 269.0L818.0 268.5L808.0 268.5L807.5 268.0L796.5 268.0L796.0 267.5L767.5 267.0L767.0 266.5L710.0 266.5L709.5 267.0L697.5 267.0L697.0 267.5L688.5 267.5L688.0 268.0L675.0 268.5L674.5 269.0L664.5 269.5L664.0 270.0L660.0 270.0L659.5 270.5L656.0 270.5L655.5 271.0L652.0 271.0L651.5 271.5L641.5 272.5L641.0 273.0L629.5 274.5L629.0 275.0L627.0 275.0L626.5 275.5L624.5 275.5L624.0 276.0L622.0 276.0L619.0 277.0L616.5 277.0L614.0 278.0L607.5 279.0L605.5 280.0L603.5 280.0L601.5 281.0L600.0 281.0L598.0 282.0L596.5 282.0L594.5 283.0L592.5 283.0L587.5 285.0L586.0 285.0L584.5 286.0L580.0 287.0L578.5 288.0L567.5 291.5L561.5 294.5L558.0 295.5L552.5 298.5L551.5 298.5L534.5 307.0L518.5 316.5L513.5 320.5L512.0 321.0L505.5 325.5L498.5 331.5L490.5 340.0L489.5 342.0L488.0 343.0L484.5 349.5L497.0 362.0L507.0 373.0L515.5 383.5L521.5 392.0L529.0 406.0L530.5 410.5L530.5 412.0L531.5 414.5L531.5 418.5L532.0 419.0L531.0 426.0L529.0 430.0L524.0 435.0L518.5 438.0L513.5 439.5L512.0 442.5L508.0 447.0L495.0 460.0L473.0 484.0L449.0 512.5L429.5 538.5L412.5 564.0L405.0 576.5L404.0 579.0L401.5 582.5L394.0 597.5L393.0 598.5L392.0 601.5L849.5 601.5Z"/></g></g>
<g fill="#fff" stroke="#322f8e" stroke-width="2.90"><circle cx="201.8" cy="178.3" r="8.05"/><circle cx="201.8" cy="173.9" r="8.05"/><circle cx="201.8" cy="238.4" r="8.05"/><circle cx="201.8" cy="302.4" r="8.05"/><circle cx="201.8" cy="308.8" r="8.05"/><circle cx="201.8" cy="332.5" r="8.05"/><circle cx="201.8" cy="373.1" r="8.05"/><circle cx="236.5" cy="332.5" r="8.05"/><circle cx="305.8" cy="83.0" r="8.05"/><circle cx="305.8" cy="120.7" r="8.05"/><circle cx="305.8" cy="174.0" r="8.05"/><circle cx="305.8" cy="178.3" r="8.05"/><circle cx="305.8" cy="238.4" r="8.05"/><circle cx="305.8" cy="302.2" r="8.05"/><circle cx="340.4" cy="249.9" r="8.05"/><circle cx="375.1" cy="249.9" r="8.05"/><circle cx="375.1" cy="332.7" r="8.05"/><circle cx="409.8" cy="249.9" r="8.05"/><circle cx="444.4" cy="83.0" r="8.05"/><circle cx="444.4" cy="178.4" r="8.05"/><circle cx="444.4" cy="302.2" r="8.05"/><circle cx="583.1" cy="83.0" r="8.05"/><circle cx="583.1" cy="120.7" r="8.05"/><circle cx="583.1" cy="174.0" r="8.05"/><circle cx="583.1" cy="178.3" r="8.05"/><circle cx="721.7" cy="82.6" r="8.05"/><circle cx="721.7" cy="120.7" r="8.05"/></g>
<g stroke="#e2332a" stroke-width="3" fill="none"><path d="M228.6 425.2L244.4 441.0M228.6 441.0L244.4 425.2"/><path d="M297.9 301.1L313.7 316.9M297.9 316.9L313.7 301.1"/><path d="M367.2 365.3L383.0 381.1M367.2 381.1L383.0 365.3"/><path d="M367.2 425.2L383.0 441.0M367.2 441.0L383.0 425.2"/><path d="M436.5 230.8L452.3 246.6M436.5 246.6L452.3 230.8"/><path d="M436.5 301.4L452.3 317.2M436.5 317.2L452.3 301.4"/><path d="M505.8 324.7L521.6 340.5M505.8 340.5L521.6 324.7"/><path d="M575.2 230.8L591.0 246.6M575.2 246.6L591.0 230.8"/><path d="M575.2 294.9L591.0 310.7M575.2 310.7L591.0 294.9"/><path d="M644.5 324.7L660.3 340.5M644.5 340.5L660.3 324.7"/><path d="M783.1 365.1L798.9 380.9M783.1 380.9L798.9 365.1"/></g>
<g fill="#000">
<rect x="151.1" y="6.1" width="698.9" height="4.5"/>
<rect x="151.1" y="6.1" width="4.8" height="492.6"/>
<rect x="151.1" y="494.1" width="698.1" height="4.6"/>
<rect x="845.2" y="0" width="4.8" height="498.7"/>
<rect x="155" y="81.25" width="8.9" height="3.1"/>
<rect x="837.2" y="81.25" width="8.9" height="3.1"/>
<rect x="155" y="21.03" width="5.9" height="3.1"/>
<rect x="840.2" y="21.03" width="5.9" height="3.1"/>
<rect x="155" y="281.30" width="8.9" height="3.1"/>
<rect x="837.2" y="281.30" width="8.9" height="3.1"/>
<rect x="155" y="221.08" width="5.9" height="3.1"/>
<rect x="840.2" y="221.08" width="5.9" height="3.1"/>
<rect x="155" y="185.85" width="5.9" height="3.1"/>
<rect x="840.2" y="185.85" width="5.9" height="3.1"/>
<rect x="155" y="160.86" width="5.9" height="3.1"/>
<rect x="840.2" y="160.86" width="5.9" height="3.1"/>
<rect x="155" y="141.47" width="5.9" height="3.1"/>
<rect x="840.2" y="141.47" width="5.9" height="3.1"/>
<rect x="155" y="125.63" width="5.9" height="3.1"/>
<rect x="840.2" y="125.63" width="5.9" height="3.1"/>
<rect x="155" y="112.24" width="5.9" height="3.1"/>
<rect x="840.2" y="112.24" width="5.9" height="3.1"/>
<rect x="155" y="100.64" width="5.9" height="3.1"/>
<rect x="840.2" y="100.64" width="5.9" height="3.1"/>
<rect x="155" y="90.40" width="5.9" height="3.1"/>
<rect x="840.2" y="90.40" width="5.9" height="3.1"/>
<rect x="155" y="481.35" width="8.9" height="3.1"/>
<rect x="837.2" y="481.35" width="8.9" height="3.1"/>
<rect x="155" y="421.13" width="5.9" height="3.1"/>
<rect x="840.2" y="421.13" width="5.9" height="3.1"/>
<rect x="155" y="385.90" width="5.9" height="3.1"/>
<rect x="840.2" y="385.90" width="5.9" height="3.1"/>
<rect x="155" y="360.91" width="5.9" height="3.1"/>
<rect x="840.2" y="360.91" width="5.9" height="3.1"/>
<rect x="155" y="341.52" width="5.9" height="3.1"/>
<rect x="840.2" y="341.52" width="5.9" height="3.1"/>
<rect x="155" y="325.68" width="5.9" height="3.1"/>
<rect x="840.2" y="325.68" width="5.9" height="3.1"/>
<rect x="155" y="312.29" width="5.9" height="3.1"/>
<rect x="840.2" y="312.29" width="5.9" height="3.1"/>
<rect x="155" y="300.69" width="5.9" height="3.1"/>
<rect x="840.2" y="300.69" width="5.9" height="3.1"/>
<rect x="155" y="290.45" width="5.9" height="3.1"/>
<rect x="840.2" y="290.45" width="5.9" height="3.1"/>
<rect x="313.77" y="486.1" width="3.0" height="8.5"/>
<rect x="313.77" y="10.1" width="3.0" height="9.3"/>
<rect x="461.84" y="486.1" width="3.0" height="8.5"/>
<rect x="461.84" y="10.1" width="3.0" height="9.3"/>
<rect x="609.91" y="486.1" width="3.0" height="8.5"/>
<rect x="609.91" y="10.1" width="3.0" height="9.3"/>
<rect x="757.98" y="486.1" width="3.0" height="8.5"/>
<rect x="757.98" y="10.1" width="3.0" height="9.3"/>
</g>
<defs><linearGradient id="fl" x1="0" x2="1"><stop offset="0" stop-color="#00a2d3" stop-opacity="0.55"/><stop offset="0.4" stop-color="#4db574" stop-opacity="0.3"/><stop offset="1" stop-color="#7dc235" stop-opacity="0"/></linearGradient></defs>
<rect x="152.5" y="498.7" width="60" height="1.2" fill="url(#fl)"/>
<g font-family="Liberation Serif, serif" font-weight="bold" fill="#111">
<text transform="translate(76.40,93.40) scale(0.945,1)" font-size="41.0">10</text>
<text transform="translate(118.30,71.50) scale(0.940,1)" font-size="33.0">-1</text>
<text transform="translate(76.40,298.90) scale(0.945,1)" font-size="41.0">10</text>
<text transform="translate(111.80,277.00) scale(0.940,1)" font-size="33.0">-2</text>
<text transform="translate(76.40,499.20) scale(0.945,1)" font-size="41.0">10</text>
<text transform="translate(112.50,477.60) scale(0.940,1)" font-size="33.0">-3</text>
<text transform="translate(129.00,532.50) scale(0.935,1)" font-size="40.5">0.00</text>
<text transform="translate(294.00,532.50) scale(0.935,1)" font-size="40.5">0.02</text>
<text transform="translate(440.70,532.50) scale(0.935,1)" font-size="40.5">0.04</text>
<text transform="translate(592.40,532.50) scale(0.935,1)" font-size="40.5">0.06</text>
<text transform="translate(739.00,532.50) scale(0.935,1)" font-size="40.5">0.08</text>
</g>
<g transform="translate(40.30,0) rotate(-90)" font-family="Liberation Serif, serif" font-weight="bold" fill="#111"><text transform="translate(-354.34,0) scale(1.160,1)" y="0.00" font-size="50.0" font-weight="normal" font-style="italic" stroke="#111" stroke-width="0.6">&#x3B2;</text><text transform="translate(-310.40,0)" y="0.00" font-size="48.0">(</text><text transform="translate(-292.46,0) scale(0.965,1)" y="0.00" font-size="48.0">mm</text><text transform="translate(-210.20,0)" y="-14.70" font-size="38.0">3</text><text transform="translate(-191.40,0)" y="0.00" font-size="48.0">/</text><text transform="translate(-178.04,0) scale(0.920,1)" y="0.00" font-size="48.0">s</text><text transform="translate(-161.80,0) scale(1.100,1)" y="0.00" font-size="48.0">)</text></g>
<g font-family="Liberation Serif, serif" fill="#111">
<text transform="translate(494.40,580.70) scale(1.065,1)" font-size="48.0" font-style="italic">&#x3D5;</text>
<text transform="translate(514.90,601.40)" font-size="40.5" font-style="italic" font-weight="bold">0</text>
</g>
</svg></body></html>
